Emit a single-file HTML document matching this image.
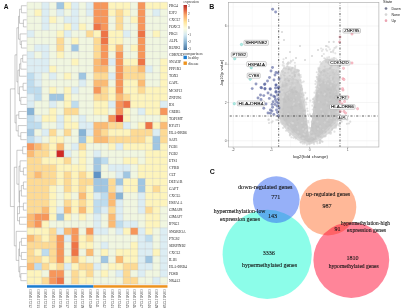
<!DOCTYPE html><html><head><meta charset="utf-8"><style>html,body{margin:0;padding:0;background:#fff;}body{width:401px;height:308px;overflow:hidden;position:relative;} svg{filter:blur(0.4px);}</style></head><body><svg width="401" height="308" viewBox="0 0 401 308" style="position:absolute;left:0;top:0">
<rect width="401" height="308" fill="#fff"/>
<rect x="27.00" y="2.20" width="7.39" height="7.05" fill="#f0f6e0"/>
<rect x="34.39" y="2.20" width="7.39" height="7.05" fill="#f0f6e0"/>
<rect x="41.79" y="2.20" width="7.39" height="7.05" fill="#dcedf3"/>
<rect x="49.18" y="2.20" width="7.39" height="7.05" fill="#f0f6e0"/>
<rect x="56.58" y="2.20" width="7.39" height="7.05" fill="#a0c6e2"/>
<rect x="63.97" y="2.20" width="7.39" height="7.05" fill="#fdf4bc"/>
<rect x="71.37" y="2.20" width="7.39" height="7.05" fill="#dcedf3"/>
<rect x="78.76" y="2.20" width="7.39" height="7.05" fill="#f0f6e0"/>
<rect x="86.16" y="2.20" width="7.39" height="7.05" fill="#dcedf3"/>
<rect x="93.55" y="2.20" width="7.39" height="7.05" fill="#f7965a"/>
<rect x="100.95" y="2.20" width="7.39" height="7.05" fill="#f7965a"/>
<rect x="108.34" y="2.20" width="7.39" height="7.05" fill="#fdf4bc"/>
<rect x="115.74" y="2.20" width="7.39" height="7.05" fill="#fdf4bc"/>
<rect x="123.13" y="2.20" width="7.39" height="7.05" fill="#fdf4bc"/>
<rect x="130.53" y="2.20" width="7.39" height="7.05" fill="#f0f6e0"/>
<rect x="137.92" y="2.20" width="7.39" height="7.05" fill="#f7965a"/>
<rect x="145.32" y="2.20" width="7.39" height="7.05" fill="#fdf4bc"/>
<rect x="152.71" y="2.20" width="7.39" height="7.05" fill="#fdf4bc"/>
<rect x="160.11" y="2.20" width="7.39" height="7.05" fill="#fdf4bc"/>
<rect x="27.00" y="9.25" width="7.39" height="7.05" fill="#f0f6e0"/>
<rect x="34.39" y="9.25" width="7.39" height="7.05" fill="#fdf4bc"/>
<rect x="41.79" y="9.25" width="7.39" height="7.05" fill="#dcedf3"/>
<rect x="49.18" y="9.25" width="7.39" height="7.05" fill="#f0f6e0"/>
<rect x="56.58" y="9.25" width="7.39" height="7.05" fill="#dcedf3"/>
<rect x="63.97" y="9.25" width="7.39" height="7.05" fill="#f0f6e0"/>
<rect x="71.37" y="9.25" width="7.39" height="7.05" fill="#dcedf3"/>
<rect x="78.76" y="9.25" width="7.39" height="7.05" fill="#f0f6e0"/>
<rect x="86.16" y="9.25" width="7.39" height="7.05" fill="#dcedf3"/>
<rect x="93.55" y="9.25" width="7.39" height="7.05" fill="#f7965a"/>
<rect x="100.95" y="9.25" width="7.39" height="7.05" fill="#f7965a"/>
<rect x="108.34" y="9.25" width="7.39" height="7.05" fill="#fdf4bc"/>
<rect x="115.74" y="9.25" width="7.39" height="7.05" fill="#fdda94"/>
<rect x="123.13" y="9.25" width="7.39" height="7.05" fill="#fdf4bc"/>
<rect x="130.53" y="9.25" width="7.39" height="7.05" fill="#f0f6e0"/>
<rect x="137.92" y="9.25" width="7.39" height="7.05" fill="#f7965a"/>
<rect x="145.32" y="9.25" width="7.39" height="7.05" fill="#f0f6e0"/>
<rect x="152.71" y="9.25" width="7.39" height="7.05" fill="#dcedf3"/>
<rect x="160.11" y="9.25" width="7.39" height="7.05" fill="#f0f6e0"/>
<rect x="27.00" y="16.30" width="7.39" height="7.05" fill="#f0f6e0"/>
<rect x="34.39" y="16.30" width="7.39" height="7.05" fill="#f0f6e0"/>
<rect x="41.79" y="16.30" width="7.39" height="7.05" fill="#dcedf3"/>
<rect x="49.18" y="16.30" width="7.39" height="7.05" fill="#fdf4bc"/>
<rect x="56.58" y="16.30" width="7.39" height="7.05" fill="#f0f6e0"/>
<rect x="63.97" y="16.30" width="7.39" height="7.05" fill="#dcedf3"/>
<rect x="71.37" y="16.30" width="7.39" height="7.05" fill="#dcedf3"/>
<rect x="78.76" y="16.30" width="7.39" height="7.05" fill="#f0f6e0"/>
<rect x="86.16" y="16.30" width="7.39" height="7.05" fill="#f0f6e0"/>
<rect x="93.55" y="16.30" width="7.39" height="7.05" fill="#f7965a"/>
<rect x="100.95" y="16.30" width="7.39" height="7.05" fill="#f7965a"/>
<rect x="108.34" y="16.30" width="7.39" height="7.05" fill="#f0f6e0"/>
<rect x="115.74" y="16.30" width="7.39" height="7.05" fill="#fdda94"/>
<rect x="123.13" y="16.30" width="7.39" height="7.05" fill="#f0f6e0"/>
<rect x="130.53" y="16.30" width="7.39" height="7.05" fill="#fdf4bc"/>
<rect x="137.92" y="16.30" width="7.39" height="7.05" fill="#f7965a"/>
<rect x="145.32" y="16.30" width="7.39" height="7.05" fill="#f0f6e0"/>
<rect x="152.71" y="16.30" width="7.39" height="7.05" fill="#f0f6e0"/>
<rect x="160.11" y="16.30" width="7.39" height="7.05" fill="#f0f6e0"/>
<rect x="27.00" y="23.35" width="7.39" height="7.05" fill="#f0f6e0"/>
<rect x="34.39" y="23.35" width="7.39" height="7.05" fill="#f0f6e0"/>
<rect x="41.79" y="23.35" width="7.39" height="7.05" fill="#dcedf3"/>
<rect x="49.18" y="23.35" width="7.39" height="7.05" fill="#f0f6e0"/>
<rect x="56.58" y="23.35" width="7.39" height="7.05" fill="#f0f6e0"/>
<rect x="63.97" y="23.35" width="7.39" height="7.05" fill="#fdf4bc"/>
<rect x="71.37" y="23.35" width="7.39" height="7.05" fill="#dcedf3"/>
<rect x="78.76" y="23.35" width="7.39" height="7.05" fill="#fdf4bc"/>
<rect x="86.16" y="23.35" width="7.39" height="7.05" fill="#f0f6e0"/>
<rect x="93.55" y="23.35" width="7.39" height="7.05" fill="#ee7446"/>
<rect x="100.95" y="23.35" width="7.39" height="7.05" fill="#f7965a"/>
<rect x="108.34" y="23.35" width="7.39" height="7.05" fill="#f0f6e0"/>
<rect x="115.74" y="23.35" width="7.39" height="7.05" fill="#fdda94"/>
<rect x="123.13" y="23.35" width="7.39" height="7.05" fill="#f0f6e0"/>
<rect x="130.53" y="23.35" width="7.39" height="7.05" fill="#f0f6e0"/>
<rect x="137.92" y="23.35" width="7.39" height="7.05" fill="#f7965a"/>
<rect x="145.32" y="23.35" width="7.39" height="7.05" fill="#f0f6e0"/>
<rect x="152.71" y="23.35" width="7.39" height="7.05" fill="#f0f6e0"/>
<rect x="160.11" y="23.35" width="7.39" height="7.05" fill="#f0f6e0"/>
<rect x="27.00" y="30.40" width="7.39" height="7.05" fill="#dcedf3"/>
<rect x="34.39" y="30.40" width="7.39" height="7.05" fill="#f0f6e0"/>
<rect x="41.79" y="30.40" width="7.39" height="7.05" fill="#f0f6e0"/>
<rect x="49.18" y="30.40" width="7.39" height="7.05" fill="#f0f6e0"/>
<rect x="56.58" y="30.40" width="7.39" height="7.05" fill="#fdf4bc"/>
<rect x="63.97" y="30.40" width="7.39" height="7.05" fill="#dcedf3"/>
<rect x="71.37" y="30.40" width="7.39" height="7.05" fill="#f0f6e0"/>
<rect x="78.76" y="30.40" width="7.39" height="7.05" fill="#f0f6e0"/>
<rect x="86.16" y="30.40" width="7.39" height="7.05" fill="#fdda94"/>
<rect x="93.55" y="30.40" width="7.39" height="7.05" fill="#fdf4bc"/>
<rect x="100.95" y="30.40" width="7.39" height="7.05" fill="#ee7446"/>
<rect x="108.34" y="30.40" width="7.39" height="7.05" fill="#fdf4bc"/>
<rect x="115.74" y="30.40" width="7.39" height="7.05" fill="#fdf4bc"/>
<rect x="123.13" y="30.40" width="7.39" height="7.05" fill="#dcedf3"/>
<rect x="130.53" y="30.40" width="7.39" height="7.05" fill="#f0f6e0"/>
<rect x="137.92" y="30.40" width="7.39" height="7.05" fill="#ee7446"/>
<rect x="145.32" y="30.40" width="7.39" height="7.05" fill="#f0f6e0"/>
<rect x="152.71" y="30.40" width="7.39" height="7.05" fill="#fdf4bc"/>
<rect x="160.11" y="30.40" width="7.39" height="7.05" fill="#f0f6e0"/>
<rect x="27.00" y="37.45" width="7.39" height="7.05" fill="#f0f6e0"/>
<rect x="34.39" y="37.45" width="7.39" height="7.05" fill="#f0f6e0"/>
<rect x="41.79" y="37.45" width="7.39" height="7.05" fill="#f0f6e0"/>
<rect x="49.18" y="37.45" width="7.39" height="7.05" fill="#f0f6e0"/>
<rect x="56.58" y="37.45" width="7.39" height="7.05" fill="#fdda94"/>
<rect x="63.97" y="37.45" width="7.39" height="7.05" fill="#f0f6e0"/>
<rect x="71.37" y="37.45" width="7.39" height="7.05" fill="#fdf4bc"/>
<rect x="78.76" y="37.45" width="7.39" height="7.05" fill="#f0f6e0"/>
<rect x="86.16" y="37.45" width="7.39" height="7.05" fill="#f0f6e0"/>
<rect x="93.55" y="37.45" width="7.39" height="7.05" fill="#fdda94"/>
<rect x="100.95" y="37.45" width="7.39" height="7.05" fill="#ee7446"/>
<rect x="108.34" y="37.45" width="7.39" height="7.05" fill="#fdf4bc"/>
<rect x="115.74" y="37.45" width="7.39" height="7.05" fill="#fdf4bc"/>
<rect x="123.13" y="37.45" width="7.39" height="7.05" fill="#f0f6e0"/>
<rect x="130.53" y="37.45" width="7.39" height="7.05" fill="#f0f6e0"/>
<rect x="137.92" y="37.45" width="7.39" height="7.05" fill="#f7965a"/>
<rect x="145.32" y="37.45" width="7.39" height="7.05" fill="#f0f6e0"/>
<rect x="152.71" y="37.45" width="7.39" height="7.05" fill="#f0f6e0"/>
<rect x="160.11" y="37.45" width="7.39" height="7.05" fill="#f0f6e0"/>
<rect x="27.00" y="44.50" width="7.39" height="7.05" fill="#f0f6e0"/>
<rect x="34.39" y="44.50" width="7.39" height="7.05" fill="#dcedf3"/>
<rect x="41.79" y="44.50" width="7.39" height="7.05" fill="#dcedf3"/>
<rect x="49.18" y="44.50" width="7.39" height="7.05" fill="#f0f6e0"/>
<rect x="56.58" y="44.50" width="7.39" height="7.05" fill="#fdda94"/>
<rect x="63.97" y="44.50" width="7.39" height="7.05" fill="#f0f6e0"/>
<rect x="71.37" y="44.50" width="7.39" height="7.05" fill="#a0c6e2"/>
<rect x="78.76" y="44.50" width="7.39" height="7.05" fill="#f0f6e0"/>
<rect x="86.16" y="44.50" width="7.39" height="7.05" fill="#f0f6e0"/>
<rect x="93.55" y="44.50" width="7.39" height="7.05" fill="#fdda94"/>
<rect x="100.95" y="44.50" width="7.39" height="7.05" fill="#f7965a"/>
<rect x="108.34" y="44.50" width="7.39" height="7.05" fill="#fdf4bc"/>
<rect x="115.74" y="44.50" width="7.39" height="7.05" fill="#fbbb74"/>
<rect x="123.13" y="44.50" width="7.39" height="7.05" fill="#f0f6e0"/>
<rect x="130.53" y="44.50" width="7.39" height="7.05" fill="#fdf4bc"/>
<rect x="137.92" y="44.50" width="7.39" height="7.05" fill="#f7965a"/>
<rect x="145.32" y="44.50" width="7.39" height="7.05" fill="#f0f6e0"/>
<rect x="152.71" y="44.50" width="7.39" height="7.05" fill="#f0f6e0"/>
<rect x="160.11" y="44.50" width="7.39" height="7.05" fill="#f0f6e0"/>
<rect x="27.00" y="51.55" width="7.39" height="7.05" fill="#dcedf3"/>
<rect x="34.39" y="51.55" width="7.39" height="7.05" fill="#f0f6e0"/>
<rect x="41.79" y="51.55" width="7.39" height="7.05" fill="#dcedf3"/>
<rect x="49.18" y="51.55" width="7.39" height="7.05" fill="#f0f6e0"/>
<rect x="56.58" y="51.55" width="7.39" height="7.05" fill="#fdf4bc"/>
<rect x="63.97" y="51.55" width="7.39" height="7.05" fill="#f0f6e0"/>
<rect x="71.37" y="51.55" width="7.39" height="7.05" fill="#f0f6e0"/>
<rect x="78.76" y="51.55" width="7.39" height="7.05" fill="#f0f6e0"/>
<rect x="86.16" y="51.55" width="7.39" height="7.05" fill="#f0f6e0"/>
<rect x="93.55" y="51.55" width="7.39" height="7.05" fill="#fdda94"/>
<rect x="100.95" y="51.55" width="7.39" height="7.05" fill="#f7965a"/>
<rect x="108.34" y="51.55" width="7.39" height="7.05" fill="#f0f6e0"/>
<rect x="115.74" y="51.55" width="7.39" height="7.05" fill="#f7965a"/>
<rect x="123.13" y="51.55" width="7.39" height="7.05" fill="#f0f6e0"/>
<rect x="130.53" y="51.55" width="7.39" height="7.05" fill="#f0f6e0"/>
<rect x="137.92" y="51.55" width="7.39" height="7.05" fill="#f7965a"/>
<rect x="145.32" y="51.55" width="7.39" height="7.05" fill="#f0f6e0"/>
<rect x="152.71" y="51.55" width="7.39" height="7.05" fill="#f0f6e0"/>
<rect x="160.11" y="51.55" width="7.39" height="7.05" fill="#f0f6e0"/>
<rect x="27.00" y="58.60" width="7.39" height="7.05" fill="#dcedf3"/>
<rect x="34.39" y="58.60" width="7.39" height="7.05" fill="#dcedf3"/>
<rect x="41.79" y="58.60" width="7.39" height="7.05" fill="#dcedf3"/>
<rect x="49.18" y="58.60" width="7.39" height="7.05" fill="#f0f6e0"/>
<rect x="56.58" y="58.60" width="7.39" height="7.05" fill="#f0f6e0"/>
<rect x="63.97" y="58.60" width="7.39" height="7.05" fill="#f0f6e0"/>
<rect x="71.37" y="58.60" width="7.39" height="7.05" fill="#fdf4bc"/>
<rect x="78.76" y="58.60" width="7.39" height="7.05" fill="#f0f6e0"/>
<rect x="86.16" y="58.60" width="7.39" height="7.05" fill="#f0f6e0"/>
<rect x="93.55" y="58.60" width="7.39" height="7.05" fill="#fbbb74"/>
<rect x="100.95" y="58.60" width="7.39" height="7.05" fill="#f7965a"/>
<rect x="108.34" y="58.60" width="7.39" height="7.05" fill="#dcedf3"/>
<rect x="115.74" y="58.60" width="7.39" height="7.05" fill="#f7965a"/>
<rect x="123.13" y="58.60" width="7.39" height="7.05" fill="#fdf4bc"/>
<rect x="130.53" y="58.60" width="7.39" height="7.05" fill="#fdf4bc"/>
<rect x="137.92" y="58.60" width="7.39" height="7.05" fill="#ee7446"/>
<rect x="145.32" y="58.60" width="7.39" height="7.05" fill="#f0f6e0"/>
<rect x="152.71" y="58.60" width="7.39" height="7.05" fill="#f0f6e0"/>
<rect x="160.11" y="58.60" width="7.39" height="7.05" fill="#fdf4bc"/>
<rect x="27.00" y="65.65" width="7.39" height="7.05" fill="#dcedf3"/>
<rect x="34.39" y="65.65" width="7.39" height="7.05" fill="#dcedf3"/>
<rect x="41.79" y="65.65" width="7.39" height="7.05" fill="#dcedf3"/>
<rect x="49.18" y="65.65" width="7.39" height="7.05" fill="#fdf4bc"/>
<rect x="56.58" y="65.65" width="7.39" height="7.05" fill="#f0f6e0"/>
<rect x="63.97" y="65.65" width="7.39" height="7.05" fill="#f0f6e0"/>
<rect x="71.37" y="65.65" width="7.39" height="7.05" fill="#f0f6e0"/>
<rect x="78.76" y="65.65" width="7.39" height="7.05" fill="#f0f6e0"/>
<rect x="86.16" y="65.65" width="7.39" height="7.05" fill="#f0f6e0"/>
<rect x="93.55" y="65.65" width="7.39" height="7.05" fill="#fbbb74"/>
<rect x="100.95" y="65.65" width="7.39" height="7.05" fill="#fbbb74"/>
<rect x="108.34" y="65.65" width="7.39" height="7.05" fill="#f0f6e0"/>
<rect x="115.74" y="65.65" width="7.39" height="7.05" fill="#f7965a"/>
<rect x="123.13" y="65.65" width="7.39" height="7.05" fill="#fdda94"/>
<rect x="130.53" y="65.65" width="7.39" height="7.05" fill="#fdda94"/>
<rect x="137.92" y="65.65" width="7.39" height="7.05" fill="#fbbb74"/>
<rect x="145.32" y="65.65" width="7.39" height="7.05" fill="#dcedf3"/>
<rect x="152.71" y="65.65" width="7.39" height="7.05" fill="#f0f6e0"/>
<rect x="160.11" y="65.65" width="7.39" height="7.05" fill="#fdf4bc"/>
<rect x="27.00" y="72.70" width="7.39" height="7.05" fill="#bedcee"/>
<rect x="34.39" y="72.70" width="7.39" height="7.05" fill="#dcedf3"/>
<rect x="41.79" y="72.70" width="7.39" height="7.05" fill="#f0f6e0"/>
<rect x="49.18" y="72.70" width="7.39" height="7.05" fill="#dcedf3"/>
<rect x="56.58" y="72.70" width="7.39" height="7.05" fill="#f0f6e0"/>
<rect x="63.97" y="72.70" width="7.39" height="7.05" fill="#fdf4bc"/>
<rect x="71.37" y="72.70" width="7.39" height="7.05" fill="#f0f6e0"/>
<rect x="78.76" y="72.70" width="7.39" height="7.05" fill="#a0c6e2"/>
<rect x="86.16" y="72.70" width="7.39" height="7.05" fill="#f0f6e0"/>
<rect x="93.55" y="72.70" width="7.39" height="7.05" fill="#fdda94"/>
<rect x="100.95" y="72.70" width="7.39" height="7.05" fill="#fdda94"/>
<rect x="108.34" y="72.70" width="7.39" height="7.05" fill="#dcedf3"/>
<rect x="115.74" y="72.70" width="7.39" height="7.05" fill="#f7965a"/>
<rect x="123.13" y="72.70" width="7.39" height="7.05" fill="#fdda94"/>
<rect x="130.53" y="72.70" width="7.39" height="7.05" fill="#fdda94"/>
<rect x="137.92" y="72.70" width="7.39" height="7.05" fill="#fdda94"/>
<rect x="145.32" y="72.70" width="7.39" height="7.05" fill="#f0f6e0"/>
<rect x="152.71" y="72.70" width="7.39" height="7.05" fill="#f0f6e0"/>
<rect x="160.11" y="72.70" width="7.39" height="7.05" fill="#fdf4bc"/>
<rect x="27.00" y="79.75" width="7.39" height="7.05" fill="#bedcee"/>
<rect x="34.39" y="79.75" width="7.39" height="7.05" fill="#dcedf3"/>
<rect x="41.79" y="79.75" width="7.39" height="7.05" fill="#f0f6e0"/>
<rect x="49.18" y="79.75" width="7.39" height="7.05" fill="#f0f6e0"/>
<rect x="56.58" y="79.75" width="7.39" height="7.05" fill="#f0f6e0"/>
<rect x="63.97" y="79.75" width="7.39" height="7.05" fill="#f0f6e0"/>
<rect x="71.37" y="79.75" width="7.39" height="7.05" fill="#f0f6e0"/>
<rect x="78.76" y="79.75" width="7.39" height="7.05" fill="#dcedf3"/>
<rect x="86.16" y="79.75" width="7.39" height="7.05" fill="#f0f6e0"/>
<rect x="93.55" y="79.75" width="7.39" height="7.05" fill="#fbbb74"/>
<rect x="100.95" y="79.75" width="7.39" height="7.05" fill="#fbbb74"/>
<rect x="108.34" y="79.75" width="7.39" height="7.05" fill="#f0f6e0"/>
<rect x="115.74" y="79.75" width="7.39" height="7.05" fill="#f7965a"/>
<rect x="123.13" y="79.75" width="7.39" height="7.05" fill="#fdf4bc"/>
<rect x="130.53" y="79.75" width="7.39" height="7.05" fill="#fdf4bc"/>
<rect x="137.92" y="79.75" width="7.39" height="7.05" fill="#fbbb74"/>
<rect x="145.32" y="79.75" width="7.39" height="7.05" fill="#f0f6e0"/>
<rect x="152.71" y="79.75" width="7.39" height="7.05" fill="#f0f6e0"/>
<rect x="160.11" y="79.75" width="7.39" height="7.05" fill="#fdf4bc"/>
<rect x="27.00" y="86.80" width="7.39" height="7.05" fill="#bedcee"/>
<rect x="34.39" y="86.80" width="7.39" height="7.05" fill="#bedcee"/>
<rect x="41.79" y="86.80" width="7.39" height="7.05" fill="#f0f6e0"/>
<rect x="49.18" y="86.80" width="7.39" height="7.05" fill="#fdf4bc"/>
<rect x="56.58" y="86.80" width="7.39" height="7.05" fill="#f0f6e0"/>
<rect x="63.97" y="86.80" width="7.39" height="7.05" fill="#fdf4bc"/>
<rect x="71.37" y="86.80" width="7.39" height="7.05" fill="#dcedf3"/>
<rect x="78.76" y="86.80" width="7.39" height="7.05" fill="#f0f6e0"/>
<rect x="86.16" y="86.80" width="7.39" height="7.05" fill="#f0f6e0"/>
<rect x="93.55" y="86.80" width="7.39" height="7.05" fill="#f7965a"/>
<rect x="100.95" y="86.80" width="7.39" height="7.05" fill="#fdda94"/>
<rect x="108.34" y="86.80" width="7.39" height="7.05" fill="#fdf4bc"/>
<rect x="115.74" y="86.80" width="7.39" height="7.05" fill="#f7965a"/>
<rect x="123.13" y="86.80" width="7.39" height="7.05" fill="#fdf4bc"/>
<rect x="130.53" y="86.80" width="7.39" height="7.05" fill="#fdf4bc"/>
<rect x="137.92" y="86.80" width="7.39" height="7.05" fill="#fdda94"/>
<rect x="145.32" y="86.80" width="7.39" height="7.05" fill="#fdf4bc"/>
<rect x="152.71" y="86.80" width="7.39" height="7.05" fill="#fdf4bc"/>
<rect x="160.11" y="86.80" width="7.39" height="7.05" fill="#fdf4bc"/>
<rect x="27.00" y="93.85" width="7.39" height="7.05" fill="#dcedf3"/>
<rect x="34.39" y="93.85" width="7.39" height="7.05" fill="#bedcee"/>
<rect x="41.79" y="93.85" width="7.39" height="7.05" fill="#f0f6e0"/>
<rect x="49.18" y="93.85" width="7.39" height="7.05" fill="#a0c6e2"/>
<rect x="56.58" y="93.85" width="7.39" height="7.05" fill="#a0c6e2"/>
<rect x="63.97" y="93.85" width="7.39" height="7.05" fill="#fdf4bc"/>
<rect x="71.37" y="93.85" width="7.39" height="7.05" fill="#f0f6e0"/>
<rect x="78.76" y="93.85" width="7.39" height="7.05" fill="#f0f6e0"/>
<rect x="86.16" y="93.85" width="7.39" height="7.05" fill="#f0f6e0"/>
<rect x="93.55" y="93.85" width="7.39" height="7.05" fill="#fdda94"/>
<rect x="100.95" y="93.85" width="7.39" height="7.05" fill="#fdda94"/>
<rect x="108.34" y="93.85" width="7.39" height="7.05" fill="#fdf4bc"/>
<rect x="115.74" y="93.85" width="7.39" height="7.05" fill="#fbbb74"/>
<rect x="123.13" y="93.85" width="7.39" height="7.05" fill="#fdda94"/>
<rect x="130.53" y="93.85" width="7.39" height="7.05" fill="#fdf4bc"/>
<rect x="137.92" y="93.85" width="7.39" height="7.05" fill="#fdf4bc"/>
<rect x="145.32" y="93.85" width="7.39" height="7.05" fill="#fdf4bc"/>
<rect x="152.71" y="93.85" width="7.39" height="7.05" fill="#fdf4bc"/>
<rect x="160.11" y="93.85" width="7.39" height="7.05" fill="#fdf4bc"/>
<rect x="27.00" y="100.90" width="7.39" height="7.05" fill="#dcedf3"/>
<rect x="34.39" y="100.90" width="7.39" height="7.05" fill="#f0f6e0"/>
<rect x="41.79" y="100.90" width="7.39" height="7.05" fill="#f0f6e0"/>
<rect x="49.18" y="100.90" width="7.39" height="7.05" fill="#dcedf3"/>
<rect x="56.58" y="100.90" width="7.39" height="7.05" fill="#f0f6e0"/>
<rect x="63.97" y="100.90" width="7.39" height="7.05" fill="#fdf4bc"/>
<rect x="71.37" y="100.90" width="7.39" height="7.05" fill="#bedcee"/>
<rect x="78.76" y="100.90" width="7.39" height="7.05" fill="#f0f6e0"/>
<rect x="86.16" y="100.90" width="7.39" height="7.05" fill="#f0f6e0"/>
<rect x="93.55" y="100.90" width="7.39" height="7.05" fill="#fdf4bc"/>
<rect x="100.95" y="100.90" width="7.39" height="7.05" fill="#fdf4bc"/>
<rect x="108.34" y="100.90" width="7.39" height="7.05" fill="#dcedf3"/>
<rect x="115.74" y="100.90" width="7.39" height="7.05" fill="#f7965a"/>
<rect x="123.13" y="100.90" width="7.39" height="7.05" fill="#ee7446"/>
<rect x="130.53" y="100.90" width="7.39" height="7.05" fill="#fdf4bc"/>
<rect x="137.92" y="100.90" width="7.39" height="7.05" fill="#fdf4bc"/>
<rect x="145.32" y="100.90" width="7.39" height="7.05" fill="#fdf4bc"/>
<rect x="152.71" y="100.90" width="7.39" height="7.05" fill="#fdf4bc"/>
<rect x="160.11" y="100.90" width="7.39" height="7.05" fill="#dcedf3"/>
<rect x="27.00" y="107.95" width="7.39" height="7.05" fill="#88b4d6"/>
<rect x="34.39" y="107.95" width="7.39" height="7.05" fill="#f0f6e0"/>
<rect x="41.79" y="107.95" width="7.39" height="7.05" fill="#f0f6e0"/>
<rect x="49.18" y="107.95" width="7.39" height="7.05" fill="#fdf4bc"/>
<rect x="56.58" y="107.95" width="7.39" height="7.05" fill="#f0f6e0"/>
<rect x="63.97" y="107.95" width="7.39" height="7.05" fill="#fdda94"/>
<rect x="71.37" y="107.95" width="7.39" height="7.05" fill="#fdda94"/>
<rect x="78.76" y="107.95" width="7.39" height="7.05" fill="#f0f6e0"/>
<rect x="86.16" y="107.95" width="7.39" height="7.05" fill="#f0f6e0"/>
<rect x="93.55" y="107.95" width="7.39" height="7.05" fill="#fdf4bc"/>
<rect x="100.95" y="107.95" width="7.39" height="7.05" fill="#fdf4bc"/>
<rect x="108.34" y="107.95" width="7.39" height="7.05" fill="#f0f6e0"/>
<rect x="115.74" y="107.95" width="7.39" height="7.05" fill="#f7965a"/>
<rect x="123.13" y="107.95" width="7.39" height="7.05" fill="#fdf4bc"/>
<rect x="130.53" y="107.95" width="7.39" height="7.05" fill="#f0f6e0"/>
<rect x="137.92" y="107.95" width="7.39" height="7.05" fill="#dcedf3"/>
<rect x="145.32" y="107.95" width="7.39" height="7.05" fill="#fdf4bc"/>
<rect x="152.71" y="107.95" width="7.39" height="7.05" fill="#fdf4bc"/>
<rect x="160.11" y="107.95" width="7.39" height="7.05" fill="#f7965a"/>
<rect x="27.00" y="115.00" width="7.39" height="7.05" fill="#bedcee"/>
<rect x="34.39" y="115.00" width="7.39" height="7.05" fill="#dcedf3"/>
<rect x="41.79" y="115.00" width="7.39" height="7.05" fill="#fdf4bc"/>
<rect x="49.18" y="115.00" width="7.39" height="7.05" fill="#fdf4bc"/>
<rect x="56.58" y="115.00" width="7.39" height="7.05" fill="#dcedf3"/>
<rect x="63.97" y="115.00" width="7.39" height="7.05" fill="#fdf4bc"/>
<rect x="71.37" y="115.00" width="7.39" height="7.05" fill="#f0f6e0"/>
<rect x="78.76" y="115.00" width="7.39" height="7.05" fill="#dcedf3"/>
<rect x="86.16" y="115.00" width="7.39" height="7.05" fill="#f0f6e0"/>
<rect x="93.55" y="115.00" width="7.39" height="7.05" fill="#f0f6e0"/>
<rect x="100.95" y="115.00" width="7.39" height="7.05" fill="#f0f6e0"/>
<rect x="108.34" y="115.00" width="7.39" height="7.05" fill="#f7965a"/>
<rect x="115.74" y="115.00" width="7.39" height="7.05" fill="#d02a26"/>
<rect x="123.13" y="115.00" width="7.39" height="7.05" fill="#fdf4bc"/>
<rect x="130.53" y="115.00" width="7.39" height="7.05" fill="#f0f6e0"/>
<rect x="137.92" y="115.00" width="7.39" height="7.05" fill="#f0f6e0"/>
<rect x="145.32" y="115.00" width="7.39" height="7.05" fill="#f0f6e0"/>
<rect x="152.71" y="115.00" width="7.39" height="7.05" fill="#f0f6e0"/>
<rect x="160.11" y="115.00" width="7.39" height="7.05" fill="#fdf4bc"/>
<rect x="27.00" y="122.05" width="7.39" height="7.05" fill="#bedcee"/>
<rect x="34.39" y="122.05" width="7.39" height="7.05" fill="#bedcee"/>
<rect x="41.79" y="122.05" width="7.39" height="7.05" fill="#f0f6e0"/>
<rect x="49.18" y="122.05" width="7.39" height="7.05" fill="#f0f6e0"/>
<rect x="56.58" y="122.05" width="7.39" height="7.05" fill="#dcedf3"/>
<rect x="63.97" y="122.05" width="7.39" height="7.05" fill="#fdf4bc"/>
<rect x="71.37" y="122.05" width="7.39" height="7.05" fill="#fdf4bc"/>
<rect x="78.76" y="122.05" width="7.39" height="7.05" fill="#dcedf3"/>
<rect x="86.16" y="122.05" width="7.39" height="7.05" fill="#dcedf3"/>
<rect x="93.55" y="122.05" width="7.39" height="7.05" fill="#fbbb74"/>
<rect x="100.95" y="122.05" width="7.39" height="7.05" fill="#fbbb74"/>
<rect x="108.34" y="122.05" width="7.39" height="7.05" fill="#fdda94"/>
<rect x="115.74" y="122.05" width="7.39" height="7.05" fill="#fdda94"/>
<rect x="123.13" y="122.05" width="7.39" height="7.05" fill="#dcedf3"/>
<rect x="130.53" y="122.05" width="7.39" height="7.05" fill="#f0f6e0"/>
<rect x="137.92" y="122.05" width="7.39" height="7.05" fill="#fdf4bc"/>
<rect x="145.32" y="122.05" width="7.39" height="7.05" fill="#ee7446"/>
<rect x="152.71" y="122.05" width="7.39" height="7.05" fill="#fdf4bc"/>
<rect x="160.11" y="122.05" width="7.39" height="7.05" fill="#fbbb74"/>
<rect x="27.00" y="129.10" width="7.39" height="7.05" fill="#a0c6e2"/>
<rect x="34.39" y="129.10" width="7.39" height="7.05" fill="#f0f6e0"/>
<rect x="41.79" y="129.10" width="7.39" height="7.05" fill="#dcedf3"/>
<rect x="49.18" y="129.10" width="7.39" height="7.05" fill="#fdda94"/>
<rect x="56.58" y="129.10" width="7.39" height="7.05" fill="#f0f6e0"/>
<rect x="63.97" y="129.10" width="7.39" height="7.05" fill="#fdda94"/>
<rect x="71.37" y="129.10" width="7.39" height="7.05" fill="#f0f6e0"/>
<rect x="78.76" y="129.10" width="7.39" height="7.05" fill="#88b4d6"/>
<rect x="86.16" y="129.10" width="7.39" height="7.05" fill="#dcedf3"/>
<rect x="93.55" y="129.10" width="7.39" height="7.05" fill="#fbbb74"/>
<rect x="100.95" y="129.10" width="7.39" height="7.05" fill="#fdda94"/>
<rect x="108.34" y="129.10" width="7.39" height="7.05" fill="#fdf4bc"/>
<rect x="115.74" y="129.10" width="7.39" height="7.05" fill="#fdf4bc"/>
<rect x="123.13" y="129.10" width="7.39" height="7.05" fill="#fdf4bc"/>
<rect x="130.53" y="129.10" width="7.39" height="7.05" fill="#fdda94"/>
<rect x="137.92" y="129.10" width="7.39" height="7.05" fill="#fdda94"/>
<rect x="145.32" y="129.10" width="7.39" height="7.05" fill="#fdda94"/>
<rect x="152.71" y="129.10" width="7.39" height="7.05" fill="#dcedf3"/>
<rect x="160.11" y="129.10" width="7.39" height="7.05" fill="#fdda94"/>
<rect x="27.00" y="136.15" width="7.39" height="7.05" fill="#bedcee"/>
<rect x="34.39" y="136.15" width="7.39" height="7.05" fill="#dcedf3"/>
<rect x="41.79" y="136.15" width="7.39" height="7.05" fill="#f0f6e0"/>
<rect x="49.18" y="136.15" width="7.39" height="7.05" fill="#fdf4bc"/>
<rect x="56.58" y="136.15" width="7.39" height="7.05" fill="#fdf4bc"/>
<rect x="63.97" y="136.15" width="7.39" height="7.05" fill="#f0f6e0"/>
<rect x="71.37" y="136.15" width="7.39" height="7.05" fill="#f0f6e0"/>
<rect x="78.76" y="136.15" width="7.39" height="7.05" fill="#a0c6e2"/>
<rect x="86.16" y="136.15" width="7.39" height="7.05" fill="#fdf4bc"/>
<rect x="93.55" y="136.15" width="7.39" height="7.05" fill="#fbbb74"/>
<rect x="100.95" y="136.15" width="7.39" height="7.05" fill="#fbbb74"/>
<rect x="108.34" y="136.15" width="7.39" height="7.05" fill="#fdda94"/>
<rect x="115.74" y="136.15" width="7.39" height="7.05" fill="#fdda94"/>
<rect x="123.13" y="136.15" width="7.39" height="7.05" fill="#fdda94"/>
<rect x="130.53" y="136.15" width="7.39" height="7.05" fill="#fdda94"/>
<rect x="137.92" y="136.15" width="7.39" height="7.05" fill="#fdda94"/>
<rect x="145.32" y="136.15" width="7.39" height="7.05" fill="#fdf4bc"/>
<rect x="152.71" y="136.15" width="7.39" height="7.05" fill="#a0c6e2"/>
<rect x="160.11" y="136.15" width="7.39" height="7.05" fill="#fdda94"/>
<rect x="27.00" y="143.20" width="7.39" height="7.05" fill="#f7965a"/>
<rect x="34.39" y="143.20" width="7.39" height="7.05" fill="#fbbb74"/>
<rect x="41.79" y="143.20" width="7.39" height="7.05" fill="#fdda94"/>
<rect x="49.18" y="143.20" width="7.39" height="7.05" fill="#fdf4bc"/>
<rect x="56.58" y="143.20" width="7.39" height="7.05" fill="#fbbb74"/>
<rect x="63.97" y="143.20" width="7.39" height="7.05" fill="#f0f6e0"/>
<rect x="71.37" y="143.20" width="7.39" height="7.05" fill="#dcedf3"/>
<rect x="78.76" y="143.20" width="7.39" height="7.05" fill="#fdda94"/>
<rect x="86.16" y="143.20" width="7.39" height="7.05" fill="#f0f6e0"/>
<rect x="93.55" y="143.20" width="7.39" height="7.05" fill="#f0f6e0"/>
<rect x="100.95" y="143.20" width="7.39" height="7.05" fill="#f0f6e0"/>
<rect x="108.34" y="143.20" width="7.39" height="7.05" fill="#fdf4bc"/>
<rect x="115.74" y="143.20" width="7.39" height="7.05" fill="#dcedf3"/>
<rect x="123.13" y="143.20" width="7.39" height="7.05" fill="#fdf4bc"/>
<rect x="130.53" y="143.20" width="7.39" height="7.05" fill="#fdf4bc"/>
<rect x="137.92" y="143.20" width="7.39" height="7.05" fill="#fdf4bc"/>
<rect x="145.32" y="143.20" width="7.39" height="7.05" fill="#fdf4bc"/>
<rect x="152.71" y="143.20" width="7.39" height="7.05" fill="#a0c6e2"/>
<rect x="160.11" y="143.20" width="7.39" height="7.05" fill="#fdf4bc"/>
<rect x="27.00" y="150.25" width="7.39" height="7.05" fill="#fbbb74"/>
<rect x="34.39" y="150.25" width="7.39" height="7.05" fill="#fdda94"/>
<rect x="41.79" y="150.25" width="7.39" height="7.05" fill="#fdda94"/>
<rect x="49.18" y="150.25" width="7.39" height="7.05" fill="#fdf4bc"/>
<rect x="56.58" y="150.25" width="7.39" height="7.05" fill="#d02a26"/>
<rect x="63.97" y="150.25" width="7.39" height="7.05" fill="#dcedf3"/>
<rect x="71.37" y="150.25" width="7.39" height="7.05" fill="#f0f6e0"/>
<rect x="78.76" y="150.25" width="7.39" height="7.05" fill="#fdf4bc"/>
<rect x="86.16" y="150.25" width="7.39" height="7.05" fill="#f0f6e0"/>
<rect x="93.55" y="150.25" width="7.39" height="7.05" fill="#dcedf3"/>
<rect x="100.95" y="150.25" width="7.39" height="7.05" fill="#f0f6e0"/>
<rect x="108.34" y="150.25" width="7.39" height="7.05" fill="#f0f6e0"/>
<rect x="115.74" y="150.25" width="7.39" height="7.05" fill="#f0f6e0"/>
<rect x="123.13" y="150.25" width="7.39" height="7.05" fill="#f0f6e0"/>
<rect x="130.53" y="150.25" width="7.39" height="7.05" fill="#f0f6e0"/>
<rect x="137.92" y="150.25" width="7.39" height="7.05" fill="#f0f6e0"/>
<rect x="145.32" y="150.25" width="7.39" height="7.05" fill="#fdf4bc"/>
<rect x="152.71" y="150.25" width="7.39" height="7.05" fill="#fdf4bc"/>
<rect x="160.11" y="150.25" width="7.39" height="7.05" fill="#fdf4bc"/>
<rect x="27.00" y="157.30" width="7.39" height="7.05" fill="#fdda94"/>
<rect x="34.39" y="157.30" width="7.39" height="7.05" fill="#fdda94"/>
<rect x="41.79" y="157.30" width="7.39" height="7.05" fill="#fdf4bc"/>
<rect x="49.18" y="157.30" width="7.39" height="7.05" fill="#fdf4bc"/>
<rect x="56.58" y="157.30" width="7.39" height="7.05" fill="#fdf4bc"/>
<rect x="63.97" y="157.30" width="7.39" height="7.05" fill="#fdda94"/>
<rect x="71.37" y="157.30" width="7.39" height="7.05" fill="#f0f6e0"/>
<rect x="78.76" y="157.30" width="7.39" height="7.05" fill="#fdf4bc"/>
<rect x="86.16" y="157.30" width="7.39" height="7.05" fill="#f0f6e0"/>
<rect x="93.55" y="157.30" width="7.39" height="7.05" fill="#a0c6e2"/>
<rect x="100.95" y="157.30" width="7.39" height="7.05" fill="#bedcee"/>
<rect x="108.34" y="157.30" width="7.39" height="7.05" fill="#f0f6e0"/>
<rect x="115.74" y="157.30" width="7.39" height="7.05" fill="#f0f6e0"/>
<rect x="123.13" y="157.30" width="7.39" height="7.05" fill="#fdf4bc"/>
<rect x="130.53" y="157.30" width="7.39" height="7.05" fill="#fdf4bc"/>
<rect x="137.92" y="157.30" width="7.39" height="7.05" fill="#f0f6e0"/>
<rect x="145.32" y="157.30" width="7.39" height="7.05" fill="#fdf4bc"/>
<rect x="152.71" y="157.30" width="7.39" height="7.05" fill="#fdf4bc"/>
<rect x="160.11" y="157.30" width="7.39" height="7.05" fill="#fdf4bc"/>
<rect x="27.00" y="164.35" width="7.39" height="7.05" fill="#fdda94"/>
<rect x="34.39" y="164.35" width="7.39" height="7.05" fill="#fdda94"/>
<rect x="41.79" y="164.35" width="7.39" height="7.05" fill="#fdda94"/>
<rect x="49.18" y="164.35" width="7.39" height="7.05" fill="#fdda94"/>
<rect x="56.58" y="164.35" width="7.39" height="7.05" fill="#fdf4bc"/>
<rect x="63.97" y="164.35" width="7.39" height="7.05" fill="#fdf4bc"/>
<rect x="71.37" y="164.35" width="7.39" height="7.05" fill="#fdf4bc"/>
<rect x="78.76" y="164.35" width="7.39" height="7.05" fill="#fdf4bc"/>
<rect x="86.16" y="164.35" width="7.39" height="7.05" fill="#f0f6e0"/>
<rect x="93.55" y="164.35" width="7.39" height="7.05" fill="#a0c6e2"/>
<rect x="100.95" y="164.35" width="7.39" height="7.05" fill="#f0f6e0"/>
<rect x="108.34" y="164.35" width="7.39" height="7.05" fill="#dcedf3"/>
<rect x="115.74" y="164.35" width="7.39" height="7.05" fill="#dcedf3"/>
<rect x="123.13" y="164.35" width="7.39" height="7.05" fill="#dcedf3"/>
<rect x="130.53" y="164.35" width="7.39" height="7.05" fill="#f0f6e0"/>
<rect x="137.92" y="164.35" width="7.39" height="7.05" fill="#fdf4bc"/>
<rect x="145.32" y="164.35" width="7.39" height="7.05" fill="#fdf4bc"/>
<rect x="152.71" y="164.35" width="7.39" height="7.05" fill="#fdf4bc"/>
<rect x="160.11" y="164.35" width="7.39" height="7.05" fill="#fdf4bc"/>
<rect x="27.00" y="171.40" width="7.39" height="7.05" fill="#fdda94"/>
<rect x="34.39" y="171.40" width="7.39" height="7.05" fill="#fbbb74"/>
<rect x="41.79" y="171.40" width="7.39" height="7.05" fill="#fdda94"/>
<rect x="49.18" y="171.40" width="7.39" height="7.05" fill="#fdda94"/>
<rect x="56.58" y="171.40" width="7.39" height="7.05" fill="#fdf4bc"/>
<rect x="63.97" y="171.40" width="7.39" height="7.05" fill="#fdda94"/>
<rect x="71.37" y="171.40" width="7.39" height="7.05" fill="#fdf4bc"/>
<rect x="78.76" y="171.40" width="7.39" height="7.05" fill="#fdda94"/>
<rect x="86.16" y="171.40" width="7.39" height="7.05" fill="#fdf4bc"/>
<rect x="93.55" y="171.40" width="7.39" height="7.05" fill="#6094c6"/>
<rect x="100.95" y="171.40" width="7.39" height="7.05" fill="#f0f6e0"/>
<rect x="108.34" y="171.40" width="7.39" height="7.05" fill="#f0f6e0"/>
<rect x="115.74" y="171.40" width="7.39" height="7.05" fill="#dcedf3"/>
<rect x="123.13" y="171.40" width="7.39" height="7.05" fill="#a0c6e2"/>
<rect x="130.53" y="171.40" width="7.39" height="7.05" fill="#f0f6e0"/>
<rect x="137.92" y="171.40" width="7.39" height="7.05" fill="#fdf4bc"/>
<rect x="145.32" y="171.40" width="7.39" height="7.05" fill="#fdf4bc"/>
<rect x="152.71" y="171.40" width="7.39" height="7.05" fill="#fdf4bc"/>
<rect x="160.11" y="171.40" width="7.39" height="7.05" fill="#fdf4bc"/>
<rect x="27.00" y="178.45" width="7.39" height="7.05" fill="#fdda94"/>
<rect x="34.39" y="178.45" width="7.39" height="7.05" fill="#fdda94"/>
<rect x="41.79" y="178.45" width="7.39" height="7.05" fill="#fdda94"/>
<rect x="49.18" y="178.45" width="7.39" height="7.05" fill="#fdda94"/>
<rect x="56.58" y="178.45" width="7.39" height="7.05" fill="#fdf4bc"/>
<rect x="63.97" y="178.45" width="7.39" height="7.05" fill="#fdda94"/>
<rect x="71.37" y="178.45" width="7.39" height="7.05" fill="#fdf4bc"/>
<rect x="78.76" y="178.45" width="7.39" height="7.05" fill="#fdda94"/>
<rect x="86.16" y="178.45" width="7.39" height="7.05" fill="#fdda94"/>
<rect x="93.55" y="178.45" width="7.39" height="7.05" fill="#a0c6e2"/>
<rect x="100.95" y="178.45" width="7.39" height="7.05" fill="#a0c6e2"/>
<rect x="108.34" y="178.45" width="7.39" height="7.05" fill="#fdda94"/>
<rect x="115.74" y="178.45" width="7.39" height="7.05" fill="#a0c6e2"/>
<rect x="123.13" y="178.45" width="7.39" height="7.05" fill="#fdf4bc"/>
<rect x="130.53" y="178.45" width="7.39" height="7.05" fill="#fdf4bc"/>
<rect x="137.92" y="178.45" width="7.39" height="7.05" fill="#a0c6e2"/>
<rect x="145.32" y="178.45" width="7.39" height="7.05" fill="#fdf4bc"/>
<rect x="152.71" y="178.45" width="7.39" height="7.05" fill="#fdf4bc"/>
<rect x="160.11" y="178.45" width="7.39" height="7.05" fill="#fdf4bc"/>
<rect x="27.00" y="185.50" width="7.39" height="7.05" fill="#fdda94"/>
<rect x="34.39" y="185.50" width="7.39" height="7.05" fill="#fdda94"/>
<rect x="41.79" y="185.50" width="7.39" height="7.05" fill="#fdda94"/>
<rect x="49.18" y="185.50" width="7.39" height="7.05" fill="#fdf4bc"/>
<rect x="56.58" y="185.50" width="7.39" height="7.05" fill="#f0f6e0"/>
<rect x="63.97" y="185.50" width="7.39" height="7.05" fill="#fdda94"/>
<rect x="71.37" y="185.50" width="7.39" height="7.05" fill="#fdf4bc"/>
<rect x="78.76" y="185.50" width="7.39" height="7.05" fill="#fdda94"/>
<rect x="86.16" y="185.50" width="7.39" height="7.05" fill="#fdf4bc"/>
<rect x="93.55" y="185.50" width="7.39" height="7.05" fill="#a0c6e2"/>
<rect x="100.95" y="185.50" width="7.39" height="7.05" fill="#a0c6e2"/>
<rect x="108.34" y="185.50" width="7.39" height="7.05" fill="#fdda94"/>
<rect x="115.74" y="185.50" width="7.39" height="7.05" fill="#dcedf3"/>
<rect x="123.13" y="185.50" width="7.39" height="7.05" fill="#fdf4bc"/>
<rect x="130.53" y="185.50" width="7.39" height="7.05" fill="#fdf4bc"/>
<rect x="137.92" y="185.50" width="7.39" height="7.05" fill="#a0c6e2"/>
<rect x="145.32" y="185.50" width="7.39" height="7.05" fill="#fdf4bc"/>
<rect x="152.71" y="185.50" width="7.39" height="7.05" fill="#fdda94"/>
<rect x="160.11" y="185.50" width="7.39" height="7.05" fill="#fdf4bc"/>
<rect x="27.00" y="192.55" width="7.39" height="7.05" fill="#fdda94"/>
<rect x="34.39" y="192.55" width="7.39" height="7.05" fill="#fdda94"/>
<rect x="41.79" y="192.55" width="7.39" height="7.05" fill="#fdda94"/>
<rect x="49.18" y="192.55" width="7.39" height="7.05" fill="#fdf4bc"/>
<rect x="56.58" y="192.55" width="7.39" height="7.05" fill="#f0f6e0"/>
<rect x="63.97" y="192.55" width="7.39" height="7.05" fill="#fdf4bc"/>
<rect x="71.37" y="192.55" width="7.39" height="7.05" fill="#f0f6e0"/>
<rect x="78.76" y="192.55" width="7.39" height="7.05" fill="#fbbb74"/>
<rect x="86.16" y="192.55" width="7.39" height="7.05" fill="#fdf4bc"/>
<rect x="93.55" y="192.55" width="7.39" height="7.05" fill="#dcedf3"/>
<rect x="100.95" y="192.55" width="7.39" height="7.05" fill="#bedcee"/>
<rect x="108.34" y="192.55" width="7.39" height="7.05" fill="#fbbb74"/>
<rect x="115.74" y="192.55" width="7.39" height="7.05" fill="#88b4d6"/>
<rect x="123.13" y="192.55" width="7.39" height="7.05" fill="#f0f6e0"/>
<rect x="130.53" y="192.55" width="7.39" height="7.05" fill="#f0f6e0"/>
<rect x="137.92" y="192.55" width="7.39" height="7.05" fill="#dcedf3"/>
<rect x="145.32" y="192.55" width="7.39" height="7.05" fill="#fdf4bc"/>
<rect x="152.71" y="192.55" width="7.39" height="7.05" fill="#fdf4bc"/>
<rect x="160.11" y="192.55" width="7.39" height="7.05" fill="#fdf4bc"/>
<rect x="27.00" y="199.60" width="7.39" height="7.05" fill="#fdda94"/>
<rect x="34.39" y="199.60" width="7.39" height="7.05" fill="#fdda94"/>
<rect x="41.79" y="199.60" width="7.39" height="7.05" fill="#fdda94"/>
<rect x="49.18" y="199.60" width="7.39" height="7.05" fill="#fdf4bc"/>
<rect x="56.58" y="199.60" width="7.39" height="7.05" fill="#f0f6e0"/>
<rect x="63.97" y="199.60" width="7.39" height="7.05" fill="#fdda94"/>
<rect x="71.37" y="199.60" width="7.39" height="7.05" fill="#fdf4bc"/>
<rect x="78.76" y="199.60" width="7.39" height="7.05" fill="#fdda94"/>
<rect x="86.16" y="199.60" width="7.39" height="7.05" fill="#fdf4bc"/>
<rect x="93.55" y="199.60" width="7.39" height="7.05" fill="#bedcee"/>
<rect x="100.95" y="199.60" width="7.39" height="7.05" fill="#bedcee"/>
<rect x="108.34" y="199.60" width="7.39" height="7.05" fill="#fbbb74"/>
<rect x="115.74" y="199.60" width="7.39" height="7.05" fill="#dcedf3"/>
<rect x="123.13" y="199.60" width="7.39" height="7.05" fill="#f0f6e0"/>
<rect x="130.53" y="199.60" width="7.39" height="7.05" fill="#f0f6e0"/>
<rect x="137.92" y="199.60" width="7.39" height="7.05" fill="#dcedf3"/>
<rect x="145.32" y="199.60" width="7.39" height="7.05" fill="#fdf4bc"/>
<rect x="152.71" y="199.60" width="7.39" height="7.05" fill="#fdf4bc"/>
<rect x="160.11" y="199.60" width="7.39" height="7.05" fill="#fdf4bc"/>
<rect x="27.00" y="206.65" width="7.39" height="7.05" fill="#fdda94"/>
<rect x="34.39" y="206.65" width="7.39" height="7.05" fill="#fdda94"/>
<rect x="41.79" y="206.65" width="7.39" height="7.05" fill="#fbbb74"/>
<rect x="49.18" y="206.65" width="7.39" height="7.05" fill="#fdf4bc"/>
<rect x="56.58" y="206.65" width="7.39" height="7.05" fill="#dcedf3"/>
<rect x="63.97" y="206.65" width="7.39" height="7.05" fill="#fbbb74"/>
<rect x="71.37" y="206.65" width="7.39" height="7.05" fill="#fdf4bc"/>
<rect x="78.76" y="206.65" width="7.39" height="7.05" fill="#fbbb74"/>
<rect x="86.16" y="206.65" width="7.39" height="7.05" fill="#fdf4bc"/>
<rect x="93.55" y="206.65" width="7.39" height="7.05" fill="#bedcee"/>
<rect x="100.95" y="206.65" width="7.39" height="7.05" fill="#dcedf3"/>
<rect x="108.34" y="206.65" width="7.39" height="7.05" fill="#fdda94"/>
<rect x="115.74" y="206.65" width="7.39" height="7.05" fill="#dcedf3"/>
<rect x="123.13" y="206.65" width="7.39" height="7.05" fill="#f0f6e0"/>
<rect x="130.53" y="206.65" width="7.39" height="7.05" fill="#f0f6e0"/>
<rect x="137.92" y="206.65" width="7.39" height="7.05" fill="#dcedf3"/>
<rect x="145.32" y="206.65" width="7.39" height="7.05" fill="#fdda94"/>
<rect x="152.71" y="206.65" width="7.39" height="7.05" fill="#fdf4bc"/>
<rect x="160.11" y="206.65" width="7.39" height="7.05" fill="#f0f6e0"/>
<rect x="27.00" y="213.70" width="7.39" height="7.05" fill="#fbbb74"/>
<rect x="34.39" y="213.70" width="7.39" height="7.05" fill="#f7965a"/>
<rect x="41.79" y="213.70" width="7.39" height="7.05" fill="#f7965a"/>
<rect x="49.18" y="213.70" width="7.39" height="7.05" fill="#fdf4bc"/>
<rect x="56.58" y="213.70" width="7.39" height="7.05" fill="#a0c6e2"/>
<rect x="63.97" y="213.70" width="7.39" height="7.05" fill="#fdf4bc"/>
<rect x="71.37" y="213.70" width="7.39" height="7.05" fill="#f0f6e0"/>
<rect x="78.76" y="213.70" width="7.39" height="7.05" fill="#fdf4bc"/>
<rect x="86.16" y="213.70" width="7.39" height="7.05" fill="#f0f6e0"/>
<rect x="93.55" y="213.70" width="7.39" height="7.05" fill="#dcedf3"/>
<rect x="100.95" y="213.70" width="7.39" height="7.05" fill="#f0f6e0"/>
<rect x="108.34" y="213.70" width="7.39" height="7.05" fill="#fbbb74"/>
<rect x="115.74" y="213.70" width="7.39" height="7.05" fill="#dcedf3"/>
<rect x="123.13" y="213.70" width="7.39" height="7.05" fill="#f0f6e0"/>
<rect x="130.53" y="213.70" width="7.39" height="7.05" fill="#f0f6e0"/>
<rect x="137.92" y="213.70" width="7.39" height="7.05" fill="#f0f6e0"/>
<rect x="145.32" y="213.70" width="7.39" height="7.05" fill="#fdf4bc"/>
<rect x="152.71" y="213.70" width="7.39" height="7.05" fill="#fdf4bc"/>
<rect x="160.11" y="213.70" width="7.39" height="7.05" fill="#f0f6e0"/>
<rect x="27.00" y="220.75" width="7.39" height="7.05" fill="#fbbb74"/>
<rect x="34.39" y="220.75" width="7.39" height="7.05" fill="#f7965a"/>
<rect x="41.79" y="220.75" width="7.39" height="7.05" fill="#fdf4bc"/>
<rect x="49.18" y="220.75" width="7.39" height="7.05" fill="#f0f6e0"/>
<rect x="56.58" y="220.75" width="7.39" height="7.05" fill="#f0f6e0"/>
<rect x="63.97" y="220.75" width="7.39" height="7.05" fill="#f0f6e0"/>
<rect x="71.37" y="220.75" width="7.39" height="7.05" fill="#f0f6e0"/>
<rect x="78.76" y="220.75" width="7.39" height="7.05" fill="#f0f6e0"/>
<rect x="86.16" y="220.75" width="7.39" height="7.05" fill="#f0f6e0"/>
<rect x="93.55" y="220.75" width="7.39" height="7.05" fill="#dcedf3"/>
<rect x="100.95" y="220.75" width="7.39" height="7.05" fill="#f0f6e0"/>
<rect x="108.34" y="220.75" width="7.39" height="7.05" fill="#fbbb74"/>
<rect x="115.74" y="220.75" width="7.39" height="7.05" fill="#bedcee"/>
<rect x="123.13" y="220.75" width="7.39" height="7.05" fill="#dcedf3"/>
<rect x="130.53" y="220.75" width="7.39" height="7.05" fill="#dcedf3"/>
<rect x="137.92" y="220.75" width="7.39" height="7.05" fill="#f0f6e0"/>
<rect x="145.32" y="220.75" width="7.39" height="7.05" fill="#fdf4bc"/>
<rect x="152.71" y="220.75" width="7.39" height="7.05" fill="#fdf4bc"/>
<rect x="160.11" y="220.75" width="7.39" height="7.05" fill="#f0f6e0"/>
<rect x="27.00" y="227.80" width="7.39" height="7.05" fill="#fdf4bc"/>
<rect x="34.39" y="227.80" width="7.39" height="7.05" fill="#fdf4bc"/>
<rect x="41.79" y="227.80" width="7.39" height="7.05" fill="#fdf4bc"/>
<rect x="49.18" y="227.80" width="7.39" height="7.05" fill="#fdda94"/>
<rect x="56.58" y="227.80" width="7.39" height="7.05" fill="#dcedf3"/>
<rect x="63.97" y="227.80" width="7.39" height="7.05" fill="#fbbb74"/>
<rect x="71.37" y="227.80" width="7.39" height="7.05" fill="#f7965a"/>
<rect x="78.76" y="227.80" width="7.39" height="7.05" fill="#f0f6e0"/>
<rect x="86.16" y="227.80" width="7.39" height="7.05" fill="#f7965a"/>
<rect x="93.55" y="227.80" width="7.39" height="7.05" fill="#dcedf3"/>
<rect x="100.95" y="227.80" width="7.39" height="7.05" fill="#dcedf3"/>
<rect x="108.34" y="227.80" width="7.39" height="7.05" fill="#f0f6e0"/>
<rect x="115.74" y="227.80" width="7.39" height="7.05" fill="#dcedf3"/>
<rect x="123.13" y="227.80" width="7.39" height="7.05" fill="#fdf4bc"/>
<rect x="130.53" y="227.80" width="7.39" height="7.05" fill="#f7965a"/>
<rect x="137.92" y="227.80" width="7.39" height="7.05" fill="#dcedf3"/>
<rect x="145.32" y="227.80" width="7.39" height="7.05" fill="#fdf4bc"/>
<rect x="152.71" y="227.80" width="7.39" height="7.05" fill="#f0f6e0"/>
<rect x="160.11" y="227.80" width="7.39" height="7.05" fill="#dcedf3"/>
<rect x="27.00" y="234.85" width="7.39" height="7.05" fill="#fbbb74"/>
<rect x="34.39" y="234.85" width="7.39" height="7.05" fill="#fdda94"/>
<rect x="41.79" y="234.85" width="7.39" height="7.05" fill="#fdf4bc"/>
<rect x="49.18" y="234.85" width="7.39" height="7.05" fill="#fdda94"/>
<rect x="56.58" y="234.85" width="7.39" height="7.05" fill="#f7965a"/>
<rect x="63.97" y="234.85" width="7.39" height="7.05" fill="#dcedf3"/>
<rect x="71.37" y="234.85" width="7.39" height="7.05" fill="#f7965a"/>
<rect x="78.76" y="234.85" width="7.39" height="7.05" fill="#fdf4bc"/>
<rect x="86.16" y="234.85" width="7.39" height="7.05" fill="#fdda94"/>
<rect x="93.55" y="234.85" width="7.39" height="7.05" fill="#f0f6e0"/>
<rect x="100.95" y="234.85" width="7.39" height="7.05" fill="#f0f6e0"/>
<rect x="108.34" y="234.85" width="7.39" height="7.05" fill="#f0f6e0"/>
<rect x="115.74" y="234.85" width="7.39" height="7.05" fill="#f0f6e0"/>
<rect x="123.13" y="234.85" width="7.39" height="7.05" fill="#f0f6e0"/>
<rect x="130.53" y="234.85" width="7.39" height="7.05" fill="#f0f6e0"/>
<rect x="137.92" y="234.85" width="7.39" height="7.05" fill="#dcedf3"/>
<rect x="145.32" y="234.85" width="7.39" height="7.05" fill="#bedcee"/>
<rect x="152.71" y="234.85" width="7.39" height="7.05" fill="#f0f6e0"/>
<rect x="160.11" y="234.85" width="7.39" height="7.05" fill="#dcedf3"/>
<rect x="27.00" y="241.90" width="7.39" height="7.05" fill="#fdda94"/>
<rect x="34.39" y="241.90" width="7.39" height="7.05" fill="#fdda94"/>
<rect x="41.79" y="241.90" width="7.39" height="7.05" fill="#fdda94"/>
<rect x="49.18" y="241.90" width="7.39" height="7.05" fill="#fdda94"/>
<rect x="56.58" y="241.90" width="7.39" height="7.05" fill="#f7965a"/>
<rect x="63.97" y="241.90" width="7.39" height="7.05" fill="#f0f6e0"/>
<rect x="71.37" y="241.90" width="7.39" height="7.05" fill="#ee7446"/>
<rect x="78.76" y="241.90" width="7.39" height="7.05" fill="#fdf4bc"/>
<rect x="86.16" y="241.90" width="7.39" height="7.05" fill="#fdf4bc"/>
<rect x="93.55" y="241.90" width="7.39" height="7.05" fill="#f0f6e0"/>
<rect x="100.95" y="241.90" width="7.39" height="7.05" fill="#dcedf3"/>
<rect x="108.34" y="241.90" width="7.39" height="7.05" fill="#f0f6e0"/>
<rect x="115.74" y="241.90" width="7.39" height="7.05" fill="#f0f6e0"/>
<rect x="123.13" y="241.90" width="7.39" height="7.05" fill="#f0f6e0"/>
<rect x="130.53" y="241.90" width="7.39" height="7.05" fill="#fdf4bc"/>
<rect x="137.92" y="241.90" width="7.39" height="7.05" fill="#dcedf3"/>
<rect x="145.32" y="241.90" width="7.39" height="7.05" fill="#dcedf3"/>
<rect x="152.71" y="241.90" width="7.39" height="7.05" fill="#f0f6e0"/>
<rect x="160.11" y="241.90" width="7.39" height="7.05" fill="#dcedf3"/>
<rect x="27.00" y="248.95" width="7.39" height="7.05" fill="#fdda94"/>
<rect x="34.39" y="248.95" width="7.39" height="7.05" fill="#fdf4bc"/>
<rect x="41.79" y="248.95" width="7.39" height="7.05" fill="#bedcee"/>
<rect x="49.18" y="248.95" width="7.39" height="7.05" fill="#fdda94"/>
<rect x="56.58" y="248.95" width="7.39" height="7.05" fill="#f7965a"/>
<rect x="63.97" y="248.95" width="7.39" height="7.05" fill="#f0f6e0"/>
<rect x="71.37" y="248.95" width="7.39" height="7.05" fill="#ee7446"/>
<rect x="78.76" y="248.95" width="7.39" height="7.05" fill="#f0f6e0"/>
<rect x="86.16" y="248.95" width="7.39" height="7.05" fill="#fbbb74"/>
<rect x="93.55" y="248.95" width="7.39" height="7.05" fill="#f0f6e0"/>
<rect x="100.95" y="248.95" width="7.39" height="7.05" fill="#fdf4bc"/>
<rect x="108.34" y="248.95" width="7.39" height="7.05" fill="#f0f6e0"/>
<rect x="115.74" y="248.95" width="7.39" height="7.05" fill="#fdf4bc"/>
<rect x="123.13" y="248.95" width="7.39" height="7.05" fill="#fdf4bc"/>
<rect x="130.53" y="248.95" width="7.39" height="7.05" fill="#fdf4bc"/>
<rect x="137.92" y="248.95" width="7.39" height="7.05" fill="#dcedf3"/>
<rect x="145.32" y="248.95" width="7.39" height="7.05" fill="#dcedf3"/>
<rect x="152.71" y="248.95" width="7.39" height="7.05" fill="#fdf4bc"/>
<rect x="160.11" y="248.95" width="7.39" height="7.05" fill="#dcedf3"/>
<rect x="27.00" y="256.00" width="7.39" height="7.05" fill="#fdda94"/>
<rect x="34.39" y="256.00" width="7.39" height="7.05" fill="#fdda94"/>
<rect x="41.79" y="256.00" width="7.39" height="7.05" fill="#fdf4bc"/>
<rect x="49.18" y="256.00" width="7.39" height="7.05" fill="#fdda94"/>
<rect x="56.58" y="256.00" width="7.39" height="7.05" fill="#f7965a"/>
<rect x="63.97" y="256.00" width="7.39" height="7.05" fill="#fdf4bc"/>
<rect x="71.37" y="256.00" width="7.39" height="7.05" fill="#fbbb74"/>
<rect x="78.76" y="256.00" width="7.39" height="7.05" fill="#fdf4bc"/>
<rect x="86.16" y="256.00" width="7.39" height="7.05" fill="#f0f6e0"/>
<rect x="93.55" y="256.00" width="7.39" height="7.05" fill="#f0f6e0"/>
<rect x="100.95" y="256.00" width="7.39" height="7.05" fill="#a0c6e2"/>
<rect x="108.34" y="256.00" width="7.39" height="7.05" fill="#f0f6e0"/>
<rect x="115.74" y="256.00" width="7.39" height="7.05" fill="#fbbb74"/>
<rect x="123.13" y="256.00" width="7.39" height="7.05" fill="#fdf4bc"/>
<rect x="130.53" y="256.00" width="7.39" height="7.05" fill="#fdf4bc"/>
<rect x="137.92" y="256.00" width="7.39" height="7.05" fill="#dcedf3"/>
<rect x="145.32" y="256.00" width="7.39" height="7.05" fill="#a0c6e2"/>
<rect x="152.71" y="256.00" width="7.39" height="7.05" fill="#f0f6e0"/>
<rect x="160.11" y="256.00" width="7.39" height="7.05" fill="#dcedf3"/>
<rect x="27.00" y="263.05" width="7.39" height="7.05" fill="#fbbb74"/>
<rect x="34.39" y="263.05" width="7.39" height="7.05" fill="#bedcee"/>
<rect x="41.79" y="263.05" width="7.39" height="7.05" fill="#fdda94"/>
<rect x="49.18" y="263.05" width="7.39" height="7.05" fill="#fdf4bc"/>
<rect x="56.58" y="263.05" width="7.39" height="7.05" fill="#fdda94"/>
<rect x="63.97" y="263.05" width="7.39" height="7.05" fill="#dcedf3"/>
<rect x="71.37" y="263.05" width="7.39" height="7.05" fill="#fdf4bc"/>
<rect x="78.76" y="263.05" width="7.39" height="7.05" fill="#fdda94"/>
<rect x="86.16" y="263.05" width="7.39" height="7.05" fill="#fdda94"/>
<rect x="93.55" y="263.05" width="7.39" height="7.05" fill="#dcedf3"/>
<rect x="100.95" y="263.05" width="7.39" height="7.05" fill="#f0f6e0"/>
<rect x="108.34" y="263.05" width="7.39" height="7.05" fill="#fdf4bc"/>
<rect x="115.74" y="263.05" width="7.39" height="7.05" fill="#fdf4bc"/>
<rect x="123.13" y="263.05" width="7.39" height="7.05" fill="#fdda94"/>
<rect x="130.53" y="263.05" width="7.39" height="7.05" fill="#fdda94"/>
<rect x="137.92" y="263.05" width="7.39" height="7.05" fill="#dcedf3"/>
<rect x="145.32" y="263.05" width="7.39" height="7.05" fill="#dcedf3"/>
<rect x="152.71" y="263.05" width="7.39" height="7.05" fill="#f0f6e0"/>
<rect x="160.11" y="263.05" width="7.39" height="7.05" fill="#dcedf3"/>
<rect x="27.00" y="270.10" width="7.39" height="7.05" fill="#fdf4bc"/>
<rect x="34.39" y="270.10" width="7.39" height="7.05" fill="#fdf4bc"/>
<rect x="41.79" y="270.10" width="7.39" height="7.05" fill="#f0f6e0"/>
<rect x="49.18" y="270.10" width="7.39" height="7.05" fill="#f7965a"/>
<rect x="56.58" y="270.10" width="7.39" height="7.05" fill="#f7965a"/>
<rect x="63.97" y="270.10" width="7.39" height="7.05" fill="#f0f6e0"/>
<rect x="71.37" y="270.10" width="7.39" height="7.05" fill="#fdda94"/>
<rect x="78.76" y="270.10" width="7.39" height="7.05" fill="#fdf4bc"/>
<rect x="86.16" y="270.10" width="7.39" height="7.05" fill="#fdda94"/>
<rect x="93.55" y="270.10" width="7.39" height="7.05" fill="#f0f6e0"/>
<rect x="100.95" y="270.10" width="7.39" height="7.05" fill="#fdf4bc"/>
<rect x="108.34" y="270.10" width="7.39" height="7.05" fill="#f0f6e0"/>
<rect x="115.74" y="270.10" width="7.39" height="7.05" fill="#dcedf3"/>
<rect x="123.13" y="270.10" width="7.39" height="7.05" fill="#fdda94"/>
<rect x="130.53" y="270.10" width="7.39" height="7.05" fill="#f0f6e0"/>
<rect x="137.92" y="270.10" width="7.39" height="7.05" fill="#dcedf3"/>
<rect x="145.32" y="270.10" width="7.39" height="7.05" fill="#f0f6e0"/>
<rect x="152.71" y="270.10" width="7.39" height="7.05" fill="#f0f6e0"/>
<rect x="160.11" y="270.10" width="7.39" height="7.05" fill="#dcedf3"/>
<rect x="27.00" y="277.15" width="7.39" height="7.05" fill="#fdf4bc"/>
<rect x="34.39" y="277.15" width="7.39" height="7.05" fill="#fdf4bc"/>
<rect x="41.79" y="277.15" width="7.39" height="7.05" fill="#fdda94"/>
<rect x="49.18" y="277.15" width="7.39" height="7.05" fill="#f7965a"/>
<rect x="56.58" y="277.15" width="7.39" height="7.05" fill="#ee7446"/>
<rect x="63.97" y="277.15" width="7.39" height="7.05" fill="#f0f6e0"/>
<rect x="71.37" y="277.15" width="7.39" height="7.05" fill="#fdda94"/>
<rect x="78.76" y="277.15" width="7.39" height="7.05" fill="#fdf4bc"/>
<rect x="86.16" y="277.15" width="7.39" height="7.05" fill="#fdf4bc"/>
<rect x="93.55" y="277.15" width="7.39" height="7.05" fill="#f0f6e0"/>
<rect x="100.95" y="277.15" width="7.39" height="7.05" fill="#f0f6e0"/>
<rect x="108.34" y="277.15" width="7.39" height="7.05" fill="#f0f6e0"/>
<rect x="115.74" y="277.15" width="7.39" height="7.05" fill="#f0f6e0"/>
<rect x="123.13" y="277.15" width="7.39" height="7.05" fill="#fdda94"/>
<rect x="130.53" y="277.15" width="7.39" height="7.05" fill="#fdda94"/>
<rect x="137.92" y="277.15" width="7.39" height="7.05" fill="#f0f6e0"/>
<rect x="145.32" y="277.15" width="7.39" height="7.05" fill="#f0f6e0"/>
<rect x="152.71" y="277.15" width="7.39" height="7.05" fill="#dcedf3"/>
<rect x="160.11" y="277.15" width="7.39" height="7.05" fill="#f0f6e0"/>
<path d="M27.00 2.20V284.20M34.39 2.20V284.20M41.79 2.20V284.20M49.18 2.20V284.20M56.58 2.20V284.20M63.97 2.20V284.20M71.37 2.20V284.20M78.76 2.20V284.20M86.16 2.20V284.20M93.55 2.20V284.20M100.95 2.20V284.20M108.34 2.20V284.20M115.74 2.20V284.20M123.13 2.20V284.20M130.53 2.20V284.20M137.92 2.20V284.20M145.32 2.20V284.20M152.71 2.20V284.20M160.11 2.20V284.20M167.50 2.20V284.20M27.00 2.20H167.50M27.00 9.25H167.50M27.00 16.30H167.50M27.00 23.35H167.50M27.00 30.40H167.50M27.00 37.45H167.50M27.00 44.50H167.50M27.00 51.55H167.50M27.00 58.60H167.50M27.00 65.65H167.50M27.00 72.70H167.50M27.00 79.75H167.50M27.00 86.80H167.50M27.00 93.85H167.50M27.00 100.90H167.50M27.00 107.95H167.50M27.00 115.00H167.50M27.00 122.05H167.50M27.00 129.10H167.50M27.00 136.15H167.50M27.00 143.20H167.50M27.00 150.25H167.50M27.00 157.30H167.50M27.00 164.35H167.50M27.00 171.40H167.50M27.00 178.45H167.50M27.00 185.50H167.50M27.00 192.55H167.50M27.00 199.60H167.50M27.00 206.65H167.50M27.00 213.70H167.50M27.00 220.75H167.50M27.00 227.80H167.50M27.00 234.85H167.50M27.00 241.90H167.50M27.00 248.95H167.50M27.00 256.00H167.50M27.00 263.05H167.50M27.00 270.10H167.50M27.00 277.15H167.50M27.00 284.20H167.50" stroke="#adadad" stroke-width="0.45" fill="none" opacity="0.6"/>
<path d="M26.60 5.72H21.40V12.77H26.60M26.60 19.82H23.40V26.88H26.60M21.40 9.25H19.50V23.35H23.40M26.60 40.98H21.40V48.02H26.60M26.60 33.92H20.10V44.50H21.40M19.50 16.30H18.50V39.21H20.10M26.60 55.08H22.70V62.12H26.60M22.70 58.60H20.80V69.17H26.60M20.80 63.89H19.50V76.22H26.60M26.60 83.28H23.10V90.33H26.60M26.60 97.38H20.80V104.42H26.60M23.10 86.80H19.50V100.90H20.80M19.50 70.06H18.00V93.85H19.50M18.50 27.76H16.90V81.95H18.00M26.60 111.47H18.80V118.53H26.60M26.60 132.62H20.80V139.67H26.60M26.60 125.58H18.20V136.15H20.80M18.80 115.00H16.20V130.86H18.20M16.90 54.85H15.00V122.93H16.20M26.60 146.72H22.70V153.77H26.60M26.60 167.87H23.40V174.92H26.60M26.60 160.82H20.10V171.40H23.40M26.60 181.97H23.40V189.02H26.60M23.40 185.50H21.40V196.07H26.60M26.60 203.12H23.40V210.17H26.60M26.60 217.22H19.50V224.27H26.60M23.40 206.65H17.50V220.75H19.50M21.40 190.79H19.50V213.70H17.50M20.10 166.11H19.00V202.24H19.50M22.70 150.25H16.90V184.18H19.00M26.60 238.37H21.40V245.42H26.60M26.60 252.47H21.40V259.52H26.60M21.40 241.90H19.50V256.00H21.40M26.60 273.62H20.80V280.67H26.60M26.60 266.57H19.80V277.15H20.80M19.50 248.95H18.80V271.86H19.80M26.60 231.32H16.20V260.41H18.80M16.90 167.21H14.30V245.87H16.20M15.00 88.89H10.40V206.54H14.30" stroke="#8a8a8a" stroke-width="0.45" fill="none"/>
<text x="169" y="6.92" font-family="Liberation Serif, serif" font-size="3.6" fill="#222">PRG4</text>
<text x="169" y="13.97" font-family="Liberation Serif, serif" font-size="3.6" fill="#222">E2F2</text>
<text x="169" y="21.02" font-family="Liberation Serif, serif" font-size="3.6" fill="#222">CXCL7</text>
<text x="169" y="28.07" font-family="Liberation Serif, serif" font-size="3.6" fill="#222">FOXC2</text>
<text x="169" y="35.12" font-family="Liberation Serif, serif" font-size="3.6" fill="#222">PRG1</text>
<text x="169" y="42.18" font-family="Liberation Serif, serif" font-size="3.6" fill="#222">ALPL</text>
<text x="169" y="49.23" font-family="Liberation Serif, serif" font-size="3.6" fill="#222">BLNK1</text>
<text x="169" y="56.28" font-family="Liberation Serif, serif" font-size="3.6" fill="#222">CDKN2D</text>
<text x="169" y="63.33" font-family="Liberation Serif, serif" font-size="3.6" fill="#222">SNAI3P</text>
<text x="169" y="70.38" font-family="Liberation Serif, serif" font-size="3.6" fill="#222">PPP1R3</text>
<text x="169" y="77.42" font-family="Liberation Serif, serif" font-size="3.6" fill="#222">TOX3</text>
<text x="169" y="84.48" font-family="Liberation Serif, serif" font-size="3.6" fill="#222">GAPL</text>
<text x="169" y="91.53" font-family="Liberation Serif, serif" font-size="3.6" fill="#222">MCSP12</text>
<text x="169" y="98.58" font-family="Liberation Serif, serif" font-size="3.6" fill="#222">ZNF296</text>
<text x="169" y="105.62" font-family="Liberation Serif, serif" font-size="3.6" fill="#222">ID1</text>
<text x="169" y="112.67" font-family="Liberation Serif, serif" font-size="3.6" fill="#222">CREB5</text>
<text x="169" y="119.73" font-family="Liberation Serif, serif" font-size="3.6" fill="#222">TOP1MT</text>
<text x="169" y="126.78" font-family="Liberation Serif, serif" font-size="3.6" fill="#222">KYAT1</text>
<text x="169" y="133.82" font-family="Liberation Serif, serif" font-size="3.6" fill="#222">HLA-DRB6</text>
<text x="169" y="140.87" font-family="Liberation Serif, serif" font-size="3.6" fill="#222">SAP3</text>
<text x="169" y="147.92" font-family="Liberation Serif, serif" font-size="3.6" fill="#222">FGB1</text>
<text x="169" y="154.97" font-family="Liberation Serif, serif" font-size="3.6" fill="#222">FGB2</text>
<text x="169" y="162.02" font-family="Liberation Serif, serif" font-size="3.6" fill="#222">ETS1</text>
<text x="169" y="169.07" font-family="Liberation Serif, serif" font-size="3.6" fill="#222">CYBB</text>
<text x="169" y="176.12" font-family="Liberation Serif, serif" font-size="3.6" fill="#222">CLT</text>
<text x="169" y="183.17" font-family="Liberation Serif, serif" font-size="3.6" fill="#222">DEFA1B</text>
<text x="169" y="190.22" font-family="Liberation Serif, serif" font-size="3.6" fill="#222">GAPT</text>
<text x="169" y="197.27" font-family="Liberation Serif, serif" font-size="3.6" fill="#222">CXCL5</text>
<text x="169" y="204.32" font-family="Liberation Serif, serif" font-size="3.6" fill="#222">HSPA1A</text>
<text x="169" y="211.37" font-family="Liberation Serif, serif" font-size="3.6" fill="#222">GIMAP8</text>
<text x="169" y="218.42" font-family="Liberation Serif, serif" font-size="3.6" fill="#222">GIMAP7</text>
<text x="169" y="225.47" font-family="Liberation Serif, serif" font-size="3.6" fill="#222">IFNG2</text>
<text x="169" y="232.52" font-family="Liberation Serif, serif" font-size="3.6" fill="#222">SNORD3A</text>
<text x="169" y="239.57" font-family="Liberation Serif, serif" font-size="3.6" fill="#222">PTGS2</text>
<text x="169" y="246.62" font-family="Liberation Serif, serif" font-size="3.6" fill="#222">SERPINB2</text>
<text x="169" y="253.67" font-family="Liberation Serif, serif" font-size="3.6" fill="#222">CXCL2</text>
<text x="169" y="260.72" font-family="Liberation Serif, serif" font-size="3.6" fill="#222">IL1B</text>
<text x="169" y="267.77" font-family="Liberation Serif, serif" font-size="3.6" fill="#222">HLA-DRB4</text>
<text x="169" y="274.82" font-family="Liberation Serif, serif" font-size="3.6" fill="#222">FOSB</text>
<text x="169" y="281.87" font-family="Liberation Serif, serif" font-size="3.6" fill="#222">NR4A2</text>
<rect x="27.0" y="285.2" width="66.55" height="2.5" fill="#1b7dd0"/>
<rect x="93.55" y="285.2" width="73.95" height="2.5" fill="#ee931f"/>
<text transform="translate(29.45,289.3) rotate(90)" font-family="Liberation Serif, serif" font-size="3.6" fill="#333">GSM117232</text>
<text transform="translate(36.84,289.3) rotate(90)" font-family="Liberation Serif, serif" font-size="3.6" fill="#333">GSM117233</text>
<text transform="translate(44.24,289.3) rotate(90)" font-family="Liberation Serif, serif" font-size="3.6" fill="#333">GSM117234</text>
<text transform="translate(51.63,289.3) rotate(90)" font-family="Liberation Serif, serif" font-size="3.6" fill="#333">GSM117235</text>
<text transform="translate(59.03,289.3) rotate(90)" font-family="Liberation Serif, serif" font-size="3.6" fill="#333">GSM117236</text>
<text transform="translate(66.42,289.3) rotate(90)" font-family="Liberation Serif, serif" font-size="3.6" fill="#333">GSM117237</text>
<text transform="translate(73.82,289.3) rotate(90)" font-family="Liberation Serif, serif" font-size="3.6" fill="#333">GSM117238</text>
<text transform="translate(81.21,289.3) rotate(90)" font-family="Liberation Serif, serif" font-size="3.6" fill="#333">GSM117239</text>
<text transform="translate(88.61,289.3) rotate(90)" font-family="Liberation Serif, serif" font-size="3.6" fill="#333">GSM117240</text>
<text transform="translate(96.00,289.3) rotate(90)" font-family="Liberation Serif, serif" font-size="3.6" fill="#333">GSM117241</text>
<text transform="translate(103.39,289.3) rotate(90)" font-family="Liberation Serif, serif" font-size="3.6" fill="#333">GSM117242</text>
<text transform="translate(110.79,289.3) rotate(90)" font-family="Liberation Serif, serif" font-size="3.6" fill="#333">GSM117243</text>
<text transform="translate(118.18,289.3) rotate(90)" font-family="Liberation Serif, serif" font-size="3.6" fill="#333">GSM117244</text>
<text transform="translate(125.58,289.3) rotate(90)" font-family="Liberation Serif, serif" font-size="3.6" fill="#333">GSM117245</text>
<text transform="translate(132.97,289.3) rotate(90)" font-family="Liberation Serif, serif" font-size="3.6" fill="#333">GSM117246</text>
<text transform="translate(140.37,289.3) rotate(90)" font-family="Liberation Serif, serif" font-size="3.6" fill="#333">GSM117247</text>
<text transform="translate(147.76,289.3) rotate(90)" font-family="Liberation Serif, serif" font-size="3.6" fill="#333">GSM117248</text>
<text transform="translate(155.16,289.3) rotate(90)" font-family="Liberation Serif, serif" font-size="3.6" fill="#333">GSM117249</text>
<text transform="translate(162.55,289.3) rotate(90)" font-family="Liberation Serif, serif" font-size="3.6" fill="#333">GSM117250</text>
<defs><linearGradient id="cb" x1="0" y1="0" x2="0" y2="1"><stop offset="0" stop-color="#b02a26"/><stop offset="0.1" stop-color="#dc5a3c"/><stop offset="0.22" stop-color="#f8a466"/><stop offset="0.38" stop-color="#fee49a"/><stop offset="0.52" stop-color="#fcfce0"/><stop offset="0.66" stop-color="#d6eaf2"/><stop offset="0.83" stop-color="#8cb6d4"/><stop offset="1" stop-color="#44729f"/></linearGradient></defs>
<rect x="183.5" y="5" width="3.5" height="45" fill="url(#cb)"/>
<text x="183.5" y="3.2" font-family="Liberation Serif, serif" font-size="3.6" fill="#333">expression</text>
<text x="188" y="7.40" font-family="Liberation Serif, serif" font-size="3.4" fill="#333">3</text>
<text x="188" y="14.55" font-family="Liberation Serif, serif" font-size="3.4" fill="#333">2</text>
<text x="188" y="21.70" font-family="Liberation Serif, serif" font-size="3.4" fill="#333">1</text>
<text x="188" y="28.85" font-family="Liberation Serif, serif" font-size="3.4" fill="#333">0</text>
<text x="188" y="36.00" font-family="Liberation Serif, serif" font-size="3.4" fill="#333">-1</text>
<text x="188" y="43.15" font-family="Liberation Serif, serif" font-size="3.4" fill="#333">-2</text>
<text x="188" y="50.30" font-family="Liberation Serif, serif" font-size="3.4" fill="#333">-3</text>
<text x="183.5" y="54.5" textLength="19" lengthAdjust="spacingAndGlyphs" font-family="Liberation Serif, serif" font-size="3.7" fill="#333">comparison</text>
<rect x="183.5" y="55.7" width="3.4" height="3.4" fill="#1b7dd0"/>
<rect x="183.5" y="61.5" width="3.4" height="3.4" fill="#ee931f"/>
<text x="188.3" y="58.9" font-family="Liberation Serif, serif" font-size="3.6" fill="#333">healthy</text>
<text x="188.3" y="64.5" font-family="Liberation Serif, serif" font-size="3.6" fill="#333">disease</text>
<text x="3.7" y="9.1" font-family="Liberation Sans, sans-serif" font-weight="bold" font-size="6.6" fill="#111">A</text>
<text x="209.3" y="9" font-family="Liberation Sans, sans-serif" font-weight="bold" font-size="7" fill="#111">B</text>
<text x="209.8" y="174.2" font-family="Liberation Sans, sans-serif" font-weight="bold" font-size="7" fill="#111">C</text>
<defs><clipPath id="pc"><rect x="228.5" y="2.6" width="150.39999999999998" height="144.4"/></clipPath></defs>
<path d="M233.20 2.6V147.0M271.40 2.6V147.0M309.60 2.6V147.0M347.80 2.6V147.0M228.5 140.75H378.9M228.5 102.51H378.9M228.5 64.27H378.9M228.5 26.03H378.9" stroke="#ebebeb" stroke-width="0.5"/>
<path d="M252.30 2.6V147.0M290.50 2.6V147.0M328.70 2.6V147.0M366.90 2.6V147.0M228.5 121.63H378.9M228.5 83.39H378.9M228.5 45.15H378.9M228.5 6.91H378.9" stroke="#f3f3f3" stroke-width="0.3"/>
<g clip-path="url(#pc)">
<polygon points="279.2,116 279.2,78 280.5,72 283,68 287,66 291,66.5 295,68 299,70 302,86 305,100 306.2,117 307.9,129 309.2,137.4 310.7,129 312.4,117 314,100 316.5,86 318.5,70 320,64 323,60.5 328,58.5 333,59 337,61 339.4,64 339.4,116 338.7,119 337,125.6 330,132.5 320,140.5 309.2,145 298,140.5 288,132.5 282.8,125.6 279.4,119" fill="#dcdcdc"/>
<polygon points="279.6,116 280,90 282,82 286,78 291,77.5 296,79 299.5,82 301.5,90 304,102 306.2,117 307.9,129 309.2,137.4 310.7,129 312.4,117 314.5,102 316.5,90 318,80 320,72 324,68.5 330,68 335,69.5 339.2,74 339.2,116 337.5,120 333,126 326,132.5 318,139.5 309.2,143.5 300,139.5 292,132.5 285,126 280.5,120" fill="#d0d0d0"/>
<polygon points="282,116 283,100 286,92 291,89 296,90 300,94 302.5,104 306.2,117 307.9,129 309.2,137.4 310.7,129 312.4,117 314.5,104 316.5,92 319,85 324,81.5 330,81.5 335,84 337.5,92 337.5,116 336,120 330.2,125.6 323.5,132.3 316.7,139.1 309.2,142.5 301.4,139.1 294.6,132.3 287.9,125.6 283.5,120" fill="#c7c7c7"/>
<circle cx="279.83" cy="100.21" r="1.1" fill="#c0c0c0" opacity="0.35"/>
<circle cx="281.99" cy="92.33" r="1.1" fill="#e2e2e2" opacity="0.35"/>
<circle cx="284.17" cy="73.21" r="1.1" fill="#c0c0c0" opacity="0.35"/>
<circle cx="338.55" cy="106.82" r="1.1" fill="#c0c0c0" opacity="0.35"/>
<circle cx="332.66" cy="79.51" r="1.1" fill="#c0c0c0" opacity="0.35"/>
<circle cx="283.77" cy="81.31" r="1.1" fill="#e2e2e2" opacity="0.35"/>
<circle cx="287.93" cy="107.25" r="1.1" fill="#c0c0c0" opacity="0.35"/>
<circle cx="300.58" cy="104.04" r="1.1" fill="#c0c0c0" opacity="0.35"/>
<circle cx="320.91" cy="92.62" r="1.1" fill="#c0c0c0" opacity="0.35"/>
<circle cx="295.78" cy="127.47" r="1.1" fill="#c0c0c0" opacity="0.35"/>
<circle cx="292.11" cy="106.57" r="1.1" fill="#c0c0c0" opacity="0.35"/>
<circle cx="333.76" cy="121.30" r="1.1" fill="#c0c0c0" opacity="0.35"/>
<circle cx="303.60" cy="123.93" r="1.1" fill="#c0c0c0" opacity="0.35"/>
<circle cx="320.10" cy="124.63" r="1.1" fill="#c0c0c0" opacity="0.35"/>
<circle cx="333.78" cy="81.81" r="1.1" fill="#c0c0c0" opacity="0.35"/>
<circle cx="315.23" cy="107.09" r="1.1" fill="#c0c0c0" opacity="0.35"/>
<circle cx="280.00" cy="118.64" r="1.1" fill="#c0c0c0" opacity="0.35"/>
<circle cx="294.78" cy="88.65" r="1.1" fill="#c0c0c0" opacity="0.35"/>
<circle cx="284.54" cy="75.52" r="1.1" fill="#c0c0c0" opacity="0.35"/>
<circle cx="333.51" cy="59.66" r="1.1" fill="#c0c0c0" opacity="0.35"/>
<circle cx="312.26" cy="135.92" r="1.1" fill="#e2e2e2" opacity="0.35"/>
<circle cx="333.02" cy="78.45" r="1.1" fill="#c0c0c0" opacity="0.35"/>
<circle cx="299.68" cy="136.00" r="1.1" fill="#e2e2e2" opacity="0.35"/>
<circle cx="285.96" cy="68.74" r="1.1" fill="#c0c0c0" opacity="0.35"/>
<circle cx="291.40" cy="98.07" r="1.1" fill="#c0c0c0" opacity="0.35"/>
<circle cx="313.38" cy="142.54" r="1.1" fill="#c0c0c0" opacity="0.35"/>
<circle cx="335.37" cy="126.10" r="1.1" fill="#e2e2e2" opacity="0.35"/>
<circle cx="328.66" cy="89.28" r="1.1" fill="#c0c0c0" opacity="0.35"/>
<circle cx="282.83" cy="112.26" r="1.1" fill="#c0c0c0" opacity="0.35"/>
<circle cx="286.71" cy="84.31" r="1.1" fill="#c0c0c0" opacity="0.35"/>
<circle cx="282.70" cy="86.54" r="1.1" fill="#c0c0c0" opacity="0.35"/>
<circle cx="333.71" cy="110.34" r="1.1" fill="#c0c0c0" opacity="0.35"/>
<circle cx="292.65" cy="85.00" r="1.1" fill="#c0c0c0" opacity="0.35"/>
<circle cx="282.74" cy="84.55" r="1.1" fill="#c0c0c0" opacity="0.35"/>
<circle cx="330.70" cy="67.34" r="1.1" fill="#c0c0c0" opacity="0.35"/>
<circle cx="338.77" cy="102.18" r="1.1" fill="#c0c0c0" opacity="0.35"/>
<circle cx="332.98" cy="118.14" r="1.1" fill="#c0c0c0" opacity="0.35"/>
<circle cx="326.95" cy="102.60" r="1.1" fill="#e2e2e2" opacity="0.35"/>
<circle cx="297.76" cy="73.19" r="1.1" fill="#e2e2e2" opacity="0.35"/>
<circle cx="329.20" cy="129.74" r="1.1" fill="#c0c0c0" opacity="0.35"/>
<circle cx="290.96" cy="101.18" r="1.1" fill="#c0c0c0" opacity="0.35"/>
<circle cx="294.44" cy="76.62" r="1.1" fill="#c0c0c0" opacity="0.35"/>
<circle cx="339.13" cy="94.49" r="1.1" fill="#e2e2e2" opacity="0.35"/>
<circle cx="290.97" cy="70.69" r="1.1" fill="#c0c0c0" opacity="0.35"/>
<circle cx="317.19" cy="137.53" r="1.1" fill="#e2e2e2" opacity="0.35"/>
<circle cx="328.78" cy="60.05" r="1.1" fill="#c0c0c0" opacity="0.35"/>
<circle cx="336.05" cy="126.32" r="1.1" fill="#e2e2e2" opacity="0.35"/>
<circle cx="328.08" cy="83.59" r="1.1" fill="#e2e2e2" opacity="0.35"/>
<circle cx="302.49" cy="141.95" r="1.1" fill="#c0c0c0" opacity="0.35"/>
<circle cx="329.23" cy="65.89" r="1.1" fill="#e2e2e2" opacity="0.35"/>
<circle cx="299.13" cy="104.12" r="1.1" fill="#c0c0c0" opacity="0.35"/>
<circle cx="318.88" cy="102.03" r="1.1" fill="#e2e2e2" opacity="0.35"/>
<circle cx="304.63" cy="134.82" r="1.1" fill="#e2e2e2" opacity="0.35"/>
<circle cx="289.93" cy="75.92" r="1.1" fill="#c0c0c0" opacity="0.35"/>
<circle cx="291.88" cy="107.71" r="1.1" fill="#c0c0c0" opacity="0.35"/>
<circle cx="336.06" cy="85.61" r="1.1" fill="#c0c0c0" opacity="0.35"/>
<circle cx="314.50" cy="137.91" r="1.1" fill="#c0c0c0" opacity="0.35"/>
<circle cx="336.57" cy="99.66" r="1.1" fill="#c0c0c0" opacity="0.35"/>
<circle cx="287.37" cy="96.98" r="1.1" fill="#c0c0c0" opacity="0.35"/>
<circle cx="327.76" cy="62.08" r="1.1" fill="#c0c0c0" opacity="0.35"/>
<circle cx="292.40" cy="78.31" r="1.1" fill="#e2e2e2" opacity="0.35"/>
<circle cx="305.25" cy="110.19" r="1.1" fill="#c0c0c0" opacity="0.35"/>
<circle cx="307.55" cy="141.44" r="1.1" fill="#c0c0c0" opacity="0.35"/>
<circle cx="293.13" cy="105.15" r="1.1" fill="#e2e2e2" opacity="0.35"/>
<circle cx="331.44" cy="65.03" r="1.1" fill="#c0c0c0" opacity="0.35"/>
<circle cx="320.19" cy="126.47" r="1.1" fill="#e2e2e2" opacity="0.35"/>
<circle cx="286.19" cy="120.03" r="1.1" fill="#c0c0c0" opacity="0.35"/>
<circle cx="338.87" cy="89.83" r="1.1" fill="#c0c0c0" opacity="0.35"/>
<circle cx="286.66" cy="92.99" r="1.1" fill="#c0c0c0" opacity="0.35"/>
<circle cx="298.38" cy="70.60" r="1.1" fill="#c0c0c0" opacity="0.35"/>
<circle cx="317.18" cy="100.66" r="1.1" fill="#c0c0c0" opacity="0.35"/>
<circle cx="327.41" cy="77.69" r="1.1" fill="#c0c0c0" opacity="0.35"/>
<circle cx="303.87" cy="138.58" r="1.1" fill="#e2e2e2" opacity="0.35"/>
<circle cx="336.67" cy="106.21" r="1.1" fill="#c0c0c0" opacity="0.35"/>
<circle cx="321.42" cy="92.41" r="1.1" fill="#c0c0c0" opacity="0.35"/>
<circle cx="337.93" cy="112.27" r="1.1" fill="#e2e2e2" opacity="0.35"/>
<circle cx="312.50" cy="140.03" r="1.1" fill="#c0c0c0" opacity="0.35"/>
<circle cx="284.53" cy="102.06" r="1.1" fill="#c0c0c0" opacity="0.35"/>
<circle cx="296.59" cy="80.98" r="1.1" fill="#e2e2e2" opacity="0.35"/>
<circle cx="295.14" cy="99.51" r="1.1" fill="#c0c0c0" opacity="0.35"/>
<circle cx="324.38" cy="104.35" r="1.1" fill="#c0c0c0" opacity="0.35"/>
<circle cx="307.33" cy="140.79" r="1.1" fill="#c0c0c0" opacity="0.35"/>
<circle cx="330.05" cy="93.06" r="1.1" fill="#c0c0c0" opacity="0.35"/>
<circle cx="331.08" cy="89.34" r="1.1" fill="#c0c0c0" opacity="0.35"/>
<circle cx="298.62" cy="131.07" r="1.1" fill="#c0c0c0" opacity="0.35"/>
<circle cx="317.97" cy="90.45" r="1.1" fill="#c0c0c0" opacity="0.35"/>
<circle cx="292.87" cy="67.51" r="1.1" fill="#c0c0c0" opacity="0.35"/>
<circle cx="320.26" cy="78.78" r="1.1" fill="#c0c0c0" opacity="0.35"/>
<circle cx="295.34" cy="95.65" r="1.1" fill="#c0c0c0" opacity="0.35"/>
<circle cx="301.19" cy="97.09" r="1.1" fill="#c0c0c0" opacity="0.35"/>
<circle cx="289.26" cy="99.95" r="1.1" fill="#c0c0c0" opacity="0.35"/>
<circle cx="291.37" cy="107.63" r="1.1" fill="#c0c0c0" opacity="0.35"/>
<circle cx="325.54" cy="114.47" r="1.1" fill="#c0c0c0" opacity="0.35"/>
<circle cx="334.02" cy="89.00" r="1.1" fill="#c0c0c0" opacity="0.35"/>
<circle cx="323.79" cy="113.11" r="1.1" fill="#c0c0c0" opacity="0.35"/>
<circle cx="317.40" cy="121.72" r="1.1" fill="#e2e2e2" opacity="0.35"/>
<circle cx="285.19" cy="101.76" r="1.1" fill="#c0c0c0" opacity="0.35"/>
<circle cx="331.11" cy="128.44" r="1.1" fill="#e2e2e2" opacity="0.35"/>
<circle cx="314.55" cy="136.82" r="1.1" fill="#c0c0c0" opacity="0.35"/>
<circle cx="321.76" cy="73.84" r="1.1" fill="#c0c0c0" opacity="0.35"/>
<circle cx="284.78" cy="86.27" r="1.1" fill="#c0c0c0" opacity="0.35"/>
<circle cx="331.16" cy="105.06" r="1.1" fill="#c0c0c0" opacity="0.35"/>
<circle cx="317.33" cy="116.66" r="1.1" fill="#c0c0c0" opacity="0.35"/>
<circle cx="325.39" cy="99.78" r="1.1" fill="#c0c0c0" opacity="0.35"/>
<circle cx="324.63" cy="75.96" r="1.1" fill="#c0c0c0" opacity="0.35"/>
<circle cx="293.53" cy="121.29" r="1.1" fill="#c0c0c0" opacity="0.35"/>
<circle cx="326.62" cy="110.61" r="1.1" fill="#c0c0c0" opacity="0.35"/>
<circle cx="292.76" cy="122.61" r="1.1" fill="#c0c0c0" opacity="0.35"/>
<circle cx="280.00" cy="77.53" r="1.1" fill="#c0c0c0" opacity="0.35"/>
<circle cx="321.68" cy="116.19" r="1.1" fill="#c0c0c0" opacity="0.35"/>
<circle cx="334.98" cy="70.93" r="1.1" fill="#e2e2e2" opacity="0.35"/>
<circle cx="306.29" cy="129.89" r="1.1" fill="#e2e2e2" opacity="0.35"/>
<circle cx="289.91" cy="107.24" r="1.1" fill="#c0c0c0" opacity="0.35"/>
<circle cx="310.59" cy="142.51" r="1.1" fill="#c0c0c0" opacity="0.35"/>
<circle cx="330.13" cy="100.33" r="1.1" fill="#e2e2e2" opacity="0.35"/>
<circle cx="322.42" cy="73.98" r="1.1" fill="#e2e2e2" opacity="0.35"/>
<circle cx="285.29" cy="84.68" r="1.1" fill="#c0c0c0" opacity="0.35"/>
<circle cx="325.55" cy="131.72" r="1.1" fill="#c0c0c0" opacity="0.35"/>
<circle cx="337.14" cy="119.74" r="1.1" fill="#e2e2e2" opacity="0.35"/>
<circle cx="295.13" cy="87.36" r="1.1" fill="#c0c0c0" opacity="0.35"/>
<circle cx="299.81" cy="92.67" r="1.1" fill="#c0c0c0" opacity="0.35"/>
<circle cx="331.09" cy="79.13" r="1.1" fill="#e2e2e2" opacity="0.35"/>
<circle cx="292.46" cy="77.24" r="1.1" fill="#c0c0c0" opacity="0.35"/>
<circle cx="288.53" cy="87.47" r="1.1" fill="#e2e2e2" opacity="0.35"/>
<circle cx="317.64" cy="138.78" r="1.1" fill="#e2e2e2" opacity="0.35"/>
<circle cx="312.25" cy="120.36" r="1.1" fill="#c0c0c0" opacity="0.35"/>
<circle cx="324.34" cy="94.83" r="1.1" fill="#e2e2e2" opacity="0.35"/>
<circle cx="318.54" cy="79.19" r="1.1" fill="#c0c0c0" opacity="0.35"/>
<circle cx="337.17" cy="64.09" r="1.1" fill="#c0c0c0" opacity="0.35"/>
<circle cx="298.68" cy="80.29" r="1.1" fill="#c0c0c0" opacity="0.35"/>
<circle cx="319.30" cy="80.58" r="1.1" fill="#c0c0c0" opacity="0.35"/>
<circle cx="286.67" cy="71.75" r="1.1" fill="#e2e2e2" opacity="0.35"/>
<circle cx="291.78" cy="76.54" r="1.1" fill="#c0c0c0" opacity="0.35"/>
<circle cx="334.56" cy="123.22" r="1.1" fill="#c0c0c0" opacity="0.35"/>
<circle cx="303.32" cy="101.80" r="1.1" fill="#c0c0c0" opacity="0.35"/>
<circle cx="284.31" cy="99.82" r="1.1" fill="#c0c0c0" opacity="0.35"/>
<circle cx="332.95" cy="72.52" r="1.1" fill="#c0c0c0" opacity="0.35"/>
<circle cx="292.40" cy="89.98" r="1.1" fill="#c0c0c0" opacity="0.35"/>
<circle cx="335.12" cy="96.96" r="1.1" fill="#c0c0c0" opacity="0.35"/>
<circle cx="286.19" cy="101.62" r="1.1" fill="#c0c0c0" opacity="0.35"/>
<circle cx="338.14" cy="120.56" r="1.1" fill="#c0c0c0" opacity="0.35"/>
<circle cx="326.48" cy="95.45" r="1.1" fill="#c0c0c0" opacity="0.35"/>
<circle cx="318.60" cy="80.86" r="1.1" fill="#c0c0c0" opacity="0.35"/>
<circle cx="292.62" cy="112.45" r="1.1" fill="#c0c0c0" opacity="0.35"/>
<circle cx="295.90" cy="95.77" r="1.1" fill="#e2e2e2" opacity="0.35"/>
<circle cx="318.54" cy="135.96" r="1.1" fill="#c0c0c0" opacity="0.35"/>
<circle cx="291.49" cy="75.47" r="1.1" fill="#e2e2e2" opacity="0.35"/>
<circle cx="322.51" cy="81.20" r="1.1" fill="#c0c0c0" opacity="0.35"/>
<circle cx="320.05" cy="139.89" r="1.1" fill="#c0c0c0" opacity="0.35"/>
<circle cx="303.76" cy="116.84" r="1.1" fill="#c0c0c0" opacity="0.35"/>
<circle cx="328.61" cy="122.22" r="1.1" fill="#c0c0c0" opacity="0.35"/>
<circle cx="296.57" cy="129.90" r="1.1" fill="#c0c0c0" opacity="0.35"/>
<circle cx="290.62" cy="124.24" r="1.1" fill="#c0c0c0" opacity="0.35"/>
<circle cx="338.83" cy="99.10" r="1.1" fill="#c0c0c0" opacity="0.35"/>
<circle cx="290.74" cy="91.62" r="1.1" fill="#c0c0c0" opacity="0.35"/>
<circle cx="338.62" cy="65.91" r="1.1" fill="#c0c0c0" opacity="0.35"/>
<circle cx="279.97" cy="89.37" r="1.1" fill="#e2e2e2" opacity="0.35"/>
<circle cx="334.32" cy="121.61" r="1.1" fill="#e2e2e2" opacity="0.35"/>
<circle cx="337.49" cy="83.28" r="1.1" fill="#c0c0c0" opacity="0.35"/>
<circle cx="300.99" cy="87.52" r="1.1" fill="#c0c0c0" opacity="0.35"/>
<circle cx="294.47" cy="85.39" r="1.1" fill="#e2e2e2" opacity="0.35"/>
<circle cx="289.69" cy="85.88" r="1.1" fill="#e2e2e2" opacity="0.35"/>
<circle cx="330.25" cy="93.08" r="1.1" fill="#c0c0c0" opacity="0.35"/>
<circle cx="336.69" cy="70.34" r="1.1" fill="#c0c0c0" opacity="0.35"/>
<circle cx="303.11" cy="129.12" r="1.1" fill="#e2e2e2" opacity="0.35"/>
<circle cx="292.96" cy="122.99" r="1.1" fill="#e2e2e2" opacity="0.35"/>
<circle cx="298.38" cy="77.87" r="1.1" fill="#e2e2e2" opacity="0.35"/>
<circle cx="323.30" cy="82.07" r="1.1" fill="#c0c0c0" opacity="0.35"/>
<circle cx="336.49" cy="112.23" r="1.1" fill="#e2e2e2" opacity="0.35"/>
<circle cx="307.36" cy="142.89" r="1.1" fill="#e2e2e2" opacity="0.35"/>
<circle cx="304.38" cy="98.88" r="1.1" fill="#e2e2e2" opacity="0.35"/>
<circle cx="288.07" cy="128.24" r="1.1" fill="#c0c0c0" opacity="0.35"/>
<circle cx="330.30" cy="125.42" r="1.1" fill="#c0c0c0" opacity="0.35"/>
<circle cx="297.63" cy="82.36" r="1.1" fill="#c0c0c0" opacity="0.35"/>
<circle cx="327.63" cy="59.51" r="1.1" fill="#c0c0c0" opacity="0.35"/>
<circle cx="325.69" cy="75.49" r="1.1" fill="#c0c0c0" opacity="0.35"/>
<circle cx="282.36" cy="99.36" r="1.1" fill="#c0c0c0" opacity="0.35"/>
<circle cx="303.51" cy="110.93" r="1.1" fill="#c0c0c0" opacity="0.35"/>
<circle cx="325.37" cy="132.46" r="1.1" fill="#c0c0c0" opacity="0.35"/>
<circle cx="295.39" cy="105.85" r="1.1" fill="#c0c0c0" opacity="0.35"/>
<circle cx="324.71" cy="70.92" r="1.1" fill="#c0c0c0" opacity="0.35"/>
<circle cx="334.36" cy="106.94" r="1.1" fill="#c0c0c0" opacity="0.35"/>
<circle cx="329.36" cy="114.07" r="1.1" fill="#e2e2e2" opacity="0.35"/>
<circle cx="282.75" cy="97.10" r="1.1" fill="#e2e2e2" opacity="0.35"/>
<circle cx="283.87" cy="70.01" r="1.1" fill="#e2e2e2" opacity="0.35"/>
<circle cx="314.49" cy="140.37" r="1.1" fill="#c0c0c0" opacity="0.35"/>
<circle cx="333.16" cy="94.67" r="1.1" fill="#c0c0c0" opacity="0.35"/>
<circle cx="282.98" cy="108.63" r="1.1" fill="#c0c0c0" opacity="0.35"/>
<circle cx="290.36" cy="87.03" r="1.1" fill="#c0c0c0" opacity="0.35"/>
<circle cx="289.46" cy="76.22" r="1.1" fill="#c0c0c0" opacity="0.35"/>
<circle cx="319.01" cy="71.33" r="1.1" fill="#c0c0c0" opacity="0.35"/>
<circle cx="297.60" cy="116.44" r="1.1" fill="#c0c0c0" opacity="0.35"/>
<circle cx="296.60" cy="71.32" r="1.1" fill="#e2e2e2" opacity="0.35"/>
<circle cx="282.69" cy="89.55" r="1.1" fill="#c0c0c0" opacity="0.35"/>
<circle cx="286.80" cy="118.06" r="1.1" fill="#c0c0c0" opacity="0.35"/>
<circle cx="294.70" cy="81.22" r="1.1" fill="#e2e2e2" opacity="0.35"/>
<circle cx="296.62" cy="105.82" r="1.1" fill="#c0c0c0" opacity="0.35"/>
<circle cx="303.49" cy="134.10" r="1.1" fill="#e2e2e2" opacity="0.35"/>
<circle cx="324.05" cy="71.35" r="1.1" fill="#c0c0c0" opacity="0.35"/>
<circle cx="335.51" cy="92.26" r="1.1" fill="#e2e2e2" opacity="0.35"/>
<circle cx="302.81" cy="135.87" r="1.1" fill="#c0c0c0" opacity="0.35"/>
<circle cx="317.06" cy="87.23" r="1.1" fill="#c0c0c0" opacity="0.35"/>
<circle cx="285.63" cy="78.91" r="1.1" fill="#c0c0c0" opacity="0.35"/>
<circle cx="337.08" cy="62.34" r="1.1" fill="#c0c0c0" opacity="0.35"/>
<circle cx="337.13" cy="88.85" r="1.1" fill="#e2e2e2" opacity="0.35"/>
<circle cx="316.94" cy="130.33" r="1.1" fill="#c0c0c0" opacity="0.35"/>
<circle cx="327.86" cy="73.10" r="1.1" fill="#c0c0c0" opacity="0.35"/>
<circle cx="288.08" cy="72.72" r="1.1" fill="#c0c0c0" opacity="0.35"/>
<circle cx="284.12" cy="75.47" r="1.1" fill="#c0c0c0" opacity="0.35"/>
<circle cx="313.11" cy="123.96" r="1.1" fill="#c0c0c0" opacity="0.35"/>
<circle cx="331.32" cy="63.18" r="1.1" fill="#c0c0c0" opacity="0.35"/>
<circle cx="296.21" cy="91.91" r="1.1" fill="#c0c0c0" opacity="0.35"/>
<circle cx="304.10" cy="114.59" r="1.1" fill="#c0c0c0" opacity="0.35"/>
<circle cx="316.85" cy="98.50" r="1.1" fill="#c0c0c0" opacity="0.35"/>
<circle cx="326.40" cy="126.10" r="1.1" fill="#c0c0c0" opacity="0.35"/>
<circle cx="287.85" cy="96.96" r="1.1" fill="#c0c0c0" opacity="0.35"/>
<circle cx="284.48" cy="92.91" r="1.1" fill="#c0c0c0" opacity="0.35"/>
<circle cx="281.43" cy="121.68" r="1.1" fill="#e2e2e2" opacity="0.35"/>
<circle cx="338.76" cy="64.94" r="1.1" fill="#e2e2e2" opacity="0.35"/>
<circle cx="329.79" cy="70.40" r="1.1" fill="#e2e2e2" opacity="0.35"/>
<circle cx="308.46" cy="142.88" r="1.1" fill="#e2e2e2" opacity="0.35"/>
<circle cx="286.90" cy="126.90" r="1.1" fill="#e2e2e2" opacity="0.35"/>
<circle cx="280.32" cy="85.34" r="1.1" fill="#e2e2e2" opacity="0.35"/>
<circle cx="294.15" cy="129.48" r="1.1" fill="#c0c0c0" opacity="0.35"/>
<circle cx="309.15" cy="139.39" r="1.1" fill="#c0c0c0" opacity="0.35"/>
<circle cx="293.35" cy="100.07" r="1.1" fill="#c0c0c0" opacity="0.35"/>
<circle cx="320.86" cy="137.06" r="1.1" fill="#c0c0c0" opacity="0.35"/>
<circle cx="327.80" cy="62.93" r="1.1" fill="#c0c0c0" opacity="0.35"/>
<circle cx="318.00" cy="86.18" r="1.1" fill="#e2e2e2" opacity="0.35"/>
<circle cx="334.25" cy="61.94" r="1.1" fill="#e2e2e2" opacity="0.35"/>
<circle cx="317.57" cy="89.45" r="1.1" fill="#e2e2e2" opacity="0.35"/>
<circle cx="326.47" cy="94.02" r="1.1" fill="#c0c0c0" opacity="0.35"/>
<circle cx="330.11" cy="76.10" r="1.1" fill="#c0c0c0" opacity="0.35"/>
<circle cx="319.80" cy="81.70" r="1.1" fill="#c0c0c0" opacity="0.35"/>
<circle cx="316.66" cy="93.06" r="1.1" fill="#c0c0c0" opacity="0.35"/>
<circle cx="335.11" cy="64.54" r="1.1" fill="#c0c0c0" opacity="0.35"/>
<circle cx="283.02" cy="85.93" r="1.1" fill="#c0c0c0" opacity="0.35"/>
<circle cx="314.52" cy="107.96" r="1.1" fill="#c0c0c0" opacity="0.35"/>
<circle cx="317.18" cy="97.12" r="1.1" fill="#c0c0c0" opacity="0.35"/>
<circle cx="337.82" cy="75.14" r="1.1" fill="#c0c0c0" opacity="0.35"/>
<circle cx="282.32" cy="112.63" r="1.1" fill="#e2e2e2" opacity="0.35"/>
<circle cx="327.62" cy="90.19" r="1.1" fill="#c0c0c0" opacity="0.35"/>
<circle cx="318.61" cy="94.16" r="1.1" fill="#e2e2e2" opacity="0.35"/>
<circle cx="324.41" cy="75.61" r="1.1" fill="#e2e2e2" opacity="0.35"/>
<circle cx="338.10" cy="65.52" r="1.1" fill="#c0c0c0" opacity="0.35"/>
<circle cx="316.13" cy="100.16" r="1.1" fill="#c0c0c0" opacity="0.35"/>
<circle cx="329.68" cy="68.59" r="1.1" fill="#c0c0c0" opacity="0.35"/>
<circle cx="334.70" cy="126.38" r="1.1" fill="#c0c0c0" opacity="0.35"/>
<circle cx="325.18" cy="96.20" r="1.1" fill="#c0c0c0" opacity="0.35"/>
<circle cx="282.95" cy="74.07" r="1.1" fill="#c0c0c0" opacity="0.35"/>
<circle cx="298.14" cy="123.22" r="1.1" fill="#c0c0c0" opacity="0.35"/>
<circle cx="331.79" cy="119.61" r="1.1" fill="#c0c0c0" opacity="0.35"/>
<circle cx="328.04" cy="101.71" r="1.1" fill="#c0c0c0" opacity="0.35"/>
<circle cx="291.58" cy="122.67" r="1.1" fill="#e2e2e2" opacity="0.35"/>
<circle cx="325.25" cy="83.05" r="1.1" fill="#e2e2e2" opacity="0.35"/>
<circle cx="297.68" cy="74.72" r="1.1" fill="#e2e2e2" opacity="0.35"/>
<circle cx="317.63" cy="117.82" r="1.1" fill="#c0c0c0" opacity="0.35"/>
<circle cx="331.42" cy="118.27" r="1.1" fill="#e2e2e2" opacity="0.35"/>
<circle cx="304.86" cy="120.84" r="1.1" fill="#c0c0c0" opacity="0.35"/>
<circle cx="296.31" cy="72.14" r="1.1" fill="#c0c0c0" opacity="0.35"/>
<circle cx="321.71" cy="112.22" r="1.1" fill="#c0c0c0" opacity="0.35"/>
<circle cx="329.96" cy="129.86" r="1.1" fill="#e2e2e2" opacity="0.35"/>
<circle cx="283.07" cy="71.54" r="1.1" fill="#c0c0c0" opacity="0.35"/>
<circle cx="329.59" cy="112.25" r="1.1" fill="#e2e2e2" opacity="0.35"/>
<circle cx="317.68" cy="79.30" r="1.1" fill="#c0c0c0" opacity="0.35"/>
<circle cx="282.46" cy="123.95" r="1.1" fill="#c0c0c0" opacity="0.35"/>
<circle cx="297.06" cy="92.26" r="1.1" fill="#c0c0c0" opacity="0.35"/>
<circle cx="292.94" cy="78.85" r="1.1" fill="#c0c0c0" opacity="0.35"/>
<circle cx="300.29" cy="82.48" r="1.1" fill="#e2e2e2" opacity="0.35"/>
<circle cx="303.25" cy="93.46" r="1.1" fill="#e2e2e2" opacity="0.35"/>
<circle cx="298.89" cy="118.94" r="1.1" fill="#c0c0c0" opacity="0.35"/>
<circle cx="290.29" cy="133.91" r="1.1" fill="#c0c0c0" opacity="0.35"/>
<circle cx="330.11" cy="68.19" r="1.1" fill="#c0c0c0" opacity="0.35"/>
<circle cx="289.33" cy="124.41" r="1.1" fill="#e2e2e2" opacity="0.35"/>
<circle cx="288.18" cy="98.99" r="1.1" fill="#c0c0c0" opacity="0.35"/>
<circle cx="330.90" cy="76.75" r="1.1" fill="#e2e2e2" opacity="0.35"/>
<circle cx="294.73" cy="72.40" r="1.1" fill="#c0c0c0" opacity="0.35"/>
<circle cx="328.00" cy="118.23" r="1.1" fill="#e2e2e2" opacity="0.35"/>
<circle cx="317.44" cy="85.78" r="1.1" fill="#c0c0c0" opacity="0.35"/>
<circle cx="302.04" cy="136.59" r="1.1" fill="#c0c0c0" opacity="0.35"/>
<circle cx="289.60" cy="77.00" r="1.1" fill="#e2e2e2" opacity="0.35"/>
<circle cx="334.34" cy="74.19" r="1.1" fill="#c0c0c0" opacity="0.35"/>
<circle cx="325.70" cy="113.40" r="1.1" fill="#c0c0c0" opacity="0.35"/>
<circle cx="331.65" cy="114.90" r="1.1" fill="#c0c0c0" opacity="0.35"/>
<circle cx="287.19" cy="93.69" r="1.1" fill="#e2e2e2" opacity="0.35"/>
<circle cx="306.49" cy="136.09" r="1.1" fill="#c0c0c0" opacity="0.35"/>
<circle cx="288.64" cy="80.64" r="1.1" fill="#c0c0c0" opacity="0.35"/>
<circle cx="331.68" cy="66.69" r="1.1" fill="#c0c0c0" opacity="0.35"/>
<circle cx="292.34" cy="83.02" r="1.1" fill="#c0c0c0" opacity="0.35"/>
<circle cx="286.62" cy="83.17" r="1.1" fill="#c0c0c0" opacity="0.35"/>
<circle cx="282.71" cy="88.50" r="1.1" fill="#e2e2e2" opacity="0.35"/>
<circle cx="328.46" cy="121.66" r="1.1" fill="#c0c0c0" opacity="0.35"/>
<circle cx="288.95" cy="112.61" r="1.1" fill="#c0c0c0" opacity="0.35"/>
<circle cx="289.63" cy="88.89" r="1.1" fill="#c0c0c0" opacity="0.35"/>
<circle cx="302.34" cy="127.15" r="1.1" fill="#c0c0c0" opacity="0.35"/>
<circle cx="315.84" cy="90.45" r="1.1" fill="#c0c0c0" opacity="0.35"/>
<circle cx="335.93" cy="92.85" r="1.1" fill="#c0c0c0" opacity="0.35"/>
<circle cx="325.44" cy="92.01" r="1.1" fill="#c0c0c0" opacity="0.35"/>
<circle cx="323.67" cy="135.61" r="1.1" fill="#e2e2e2" opacity="0.35"/>
<circle cx="322.21" cy="132.98" r="1.1" fill="#c0c0c0" opacity="0.35"/>
<circle cx="318.34" cy="95.12" r="1.1" fill="#c0c0c0" opacity="0.35"/>
<circle cx="303.69" cy="126.33" r="1.1" fill="#c0c0c0" opacity="0.35"/>
<circle cx="303.96" cy="95.24" r="1.1" fill="#c0c0c0" opacity="0.35"/>
<circle cx="303.02" cy="116.15" r="1.1" fill="#e2e2e2" opacity="0.35"/>
<circle cx="288.08" cy="114.18" r="1.1" fill="#e2e2e2" opacity="0.35"/>
<circle cx="301.65" cy="98.53" r="1.1" fill="#e2e2e2" opacity="0.35"/>
<circle cx="286.62" cy="126.27" r="1.1" fill="#e2e2e2" opacity="0.35"/>
<circle cx="313.92" cy="103.40" r="1.1" fill="#c0c0c0" opacity="0.35"/>
<circle cx="330.71" cy="101.56" r="1.1" fill="#c0c0c0" opacity="0.35"/>
<circle cx="338.57" cy="71.96" r="1.1" fill="#c0c0c0" opacity="0.35"/>
<circle cx="301.90" cy="124.46" r="1.1" fill="#c0c0c0" opacity="0.35"/>
<circle cx="279.74" cy="78.06" r="1.1" fill="#c0c0c0" opacity="0.35"/>
<circle cx="303.76" cy="118.33" r="1.1" fill="#c0c0c0" opacity="0.35"/>
<circle cx="293.50" cy="73.32" r="1.1" fill="#c0c0c0" opacity="0.35"/>
<circle cx="338.04" cy="102.07" r="1.1" fill="#c0c0c0" opacity="0.35"/>
<circle cx="328.90" cy="89.24" r="1.1" fill="#c0c0c0" opacity="0.35"/>
<circle cx="284.53" cy="125.78" r="1.1" fill="#e2e2e2" opacity="0.35"/>
<circle cx="317.86" cy="96.57" r="1.1" fill="#c0c0c0" opacity="0.35"/>
<circle cx="299.31" cy="112.69" r="1.1" fill="#e2e2e2" opacity="0.35"/>
<circle cx="329.87" cy="96.47" r="1.1" fill="#c0c0c0" opacity="0.35"/>
<circle cx="331.03" cy="85.70" r="1.1" fill="#e2e2e2" opacity="0.35"/>
<circle cx="293.65" cy="87.73" r="1.1" fill="#c0c0c0" opacity="0.35"/>
<circle cx="294.56" cy="75.27" r="1.1" fill="#c0c0c0" opacity="0.35"/>
<circle cx="318.06" cy="114.63" r="1.1" fill="#c0c0c0" opacity="0.35"/>
<circle cx="335.78" cy="126.48" r="1.1" fill="#c0c0c0" opacity="0.35"/>
<circle cx="330.87" cy="112.15" r="1.1" fill="#c0c0c0" opacity="0.35"/>
<circle cx="319.29" cy="75.75" r="1.1" fill="#c0c0c0" opacity="0.35"/>
<circle cx="285.42" cy="74.20" r="1.1" fill="#e2e2e2" opacity="0.35"/>
<circle cx="316.15" cy="126.22" r="1.1" fill="#c0c0c0" opacity="0.35"/>
<circle cx="335.00" cy="126.87" r="1.1" fill="#e2e2e2" opacity="0.35"/>
<circle cx="289.03" cy="117.82" r="1.1" fill="#c0c0c0" opacity="0.35"/>
<circle cx="324.97" cy="93.67" r="1.1" fill="#e2e2e2" opacity="0.35"/>
<circle cx="311.61" cy="133.97" r="1.1" fill="#c0c0c0" opacity="0.35"/>
<circle cx="331.49" cy="96.46" r="1.1" fill="#c0c0c0" opacity="0.35"/>
<circle cx="319.91" cy="131.85" r="1.1" fill="#c0c0c0" opacity="0.35"/>
<circle cx="280.98" cy="112.52" r="1.1" fill="#c0c0c0" opacity="0.35"/>
<circle cx="323.40" cy="111.40" r="1.1" fill="#c0c0c0" opacity="0.35"/>
<circle cx="332.87" cy="86.79" r="1.1" fill="#c0c0c0" opacity="0.35"/>
<circle cx="289.91" cy="93.34" r="1.1" fill="#c0c0c0" opacity="0.35"/>
<circle cx="312.57" cy="130.54" r="1.1" fill="#c0c0c0" opacity="0.35"/>
<circle cx="330.63" cy="90.35" r="1.1" fill="#c0c0c0" opacity="0.35"/>
<circle cx="293.93" cy="100.11" r="1.1" fill="#e2e2e2" opacity="0.35"/>
<circle cx="319.20" cy="127.24" r="1.1" fill="#c0c0c0" opacity="0.35"/>
<circle cx="296.93" cy="80.43" r="1.1" fill="#c0c0c0" opacity="0.35"/>
<circle cx="317.90" cy="126.50" r="1.1" fill="#c0c0c0" opacity="0.35"/>
<circle cx="323.70" cy="136.13" r="1.1" fill="#c0c0c0" opacity="0.35"/>
<circle cx="279.28" cy="80.54" r="1.1" fill="#c0c0c0" opacity="0.35"/>
<circle cx="316.17" cy="114.51" r="1.1" fill="#e2e2e2" opacity="0.35"/>
<circle cx="336.05" cy="110.12" r="1.1" fill="#c0c0c0" opacity="0.35"/>
<circle cx="317.37" cy="118.16" r="1.1" fill="#c0c0c0" opacity="0.35"/>
<circle cx="320.94" cy="72.19" r="1.1" fill="#c0c0c0" opacity="0.35"/>
<circle cx="306.22" cy="124.45" r="1.1" fill="#c0c0c0" opacity="0.35"/>
<circle cx="319.28" cy="87.04" r="1.1" fill="#e2e2e2" opacity="0.35"/>
<circle cx="327.91" cy="105.40" r="1.1" fill="#c0c0c0" opacity="0.35"/>
<circle cx="295.93" cy="92.07" r="1.1" fill="#c0c0c0" opacity="0.35"/>
<circle cx="304.42" cy="112.97" r="1.1" fill="#e2e2e2" opacity="0.35"/>
<circle cx="279.60" cy="105.91" r="1.1" fill="#c0c0c0" opacity="0.35"/>
<circle cx="313.97" cy="139.27" r="1.1" fill="#c0c0c0" opacity="0.35"/>
<circle cx="315.07" cy="141.08" r="1.1" fill="#e2e2e2" opacity="0.35"/>
<circle cx="282.73" cy="113.23" r="1.1" fill="#c0c0c0" opacity="0.35"/>
<circle cx="323.48" cy="75.02" r="1.1" fill="#c0c0c0" opacity="0.35"/>
<circle cx="327.09" cy="119.79" r="1.1" fill="#e2e2e2" opacity="0.35"/>
<circle cx="317.49" cy="119.38" r="1.1" fill="#c0c0c0" opacity="0.35"/>
<circle cx="337.53" cy="76.13" r="1.1" fill="#e2e2e2" opacity="0.35"/>
<circle cx="329.94" cy="59.57" r="1.1" fill="#c0c0c0" opacity="0.35"/>
<circle cx="324.14" cy="67.77" r="1.1" fill="#e2e2e2" opacity="0.35"/>
<circle cx="300.26" cy="106.62" r="1.1" fill="#c0c0c0" opacity="0.35"/>
<circle cx="320.67" cy="65.77" r="1.1" fill="#e2e2e2" opacity="0.35"/>
<circle cx="299.98" cy="113.26" r="1.1" fill="#c0c0c0" opacity="0.35"/>
<circle cx="327.79" cy="105.85" r="1.1" fill="#c0c0c0" opacity="0.35"/>
<circle cx="322.42" cy="130.60" r="1.1" fill="#c0c0c0" opacity="0.35"/>
<circle cx="330.87" cy="109.11" r="1.1" fill="#c0c0c0" opacity="0.35"/>
<circle cx="304.29" cy="136.37" r="1.1" fill="#c0c0c0" opacity="0.35"/>
<circle cx="321.20" cy="109.17" r="1.1" fill="#e2e2e2" opacity="0.35"/>
<circle cx="329.29" cy="78.91" r="1.1" fill="#c0c0c0" opacity="0.35"/>
<circle cx="293.36" cy="92.14" r="1.1" fill="#c0c0c0" opacity="0.35"/>
<circle cx="332.18" cy="128.67" r="1.1" fill="#c0c0c0" opacity="0.35"/>
<circle cx="336.31" cy="84.95" r="1.1" fill="#c0c0c0" opacity="0.35"/>
<circle cx="312.54" cy="127.75" r="1.1" fill="#c0c0c0" opacity="0.35"/>
<circle cx="291.45" cy="109.66" r="1.1" fill="#c0c0c0" opacity="0.35"/>
<circle cx="292.81" cy="123.36" r="1.1" fill="#e2e2e2" opacity="0.35"/>
<circle cx="329.23" cy="125.36" r="1.1" fill="#c0c0c0" opacity="0.35"/>
<circle cx="314.25" cy="137.21" r="1.1" fill="#e2e2e2" opacity="0.35"/>
<circle cx="288.69" cy="69.17" r="1.1" fill="#c0c0c0" opacity="0.35"/>
<circle cx="299.95" cy="105.62" r="1.1" fill="#c0c0c0" opacity="0.35"/>
<circle cx="317.76" cy="126.80" r="1.1" fill="#c0c0c0" opacity="0.35"/>
<circle cx="333.16" cy="98.20" r="1.1" fill="#c0c0c0" opacity="0.35"/>
<circle cx="293.27" cy="126.02" r="1.1" fill="#c0c0c0" opacity="0.35"/>
<circle cx="289.27" cy="69.17" r="1.1" fill="#c0c0c0" opacity="0.35"/>
<circle cx="279.37" cy="104.95" r="1.1" fill="#e2e2e2" opacity="0.35"/>
<circle cx="306.25" cy="141.98" r="1.1" fill="#e2e2e2" opacity="0.35"/>
<circle cx="280.24" cy="108.82" r="1.1" fill="#c0c0c0" opacity="0.35"/>
<circle cx="292.97" cy="105.63" r="1.1" fill="#c0c0c0" opacity="0.35"/>
<circle cx="339.12" cy="115.62" r="1.1" fill="#c0c0c0" opacity="0.35"/>
<circle cx="292.89" cy="85.44" r="1.1" fill="#e2e2e2" opacity="0.35"/>
<circle cx="322.83" cy="113.44" r="1.1" fill="#e2e2e2" opacity="0.35"/>
<circle cx="320.67" cy="80.39" r="1.1" fill="#c0c0c0" opacity="0.35"/>
<circle cx="326.02" cy="62.01" r="1.1" fill="#c0c0c0" opacity="0.35"/>
<circle cx="323.34" cy="70.53" r="1.1" fill="#c0c0c0" opacity="0.35"/>
<circle cx="337.23" cy="72.95" r="1.1" fill="#e2e2e2" opacity="0.35"/>
<circle cx="285.22" cy="94.49" r="1.1" fill="#c0c0c0" opacity="0.35"/>
<circle cx="317.47" cy="94.97" r="1.1" fill="#c0c0c0" opacity="0.35"/>
<circle cx="330.32" cy="97.37" r="1.1" fill="#c0c0c0" opacity="0.35"/>
<circle cx="285.42" cy="73.06" r="1.1" fill="#c0c0c0" opacity="0.35"/>
<circle cx="323.11" cy="104.57" r="1.1" fill="#c0c0c0" opacity="0.35"/>
<circle cx="333.47" cy="77.31" r="1.1" fill="#c0c0c0" opacity="0.35"/>
<circle cx="286.28" cy="77.76" r="1.1" fill="#e2e2e2" opacity="0.35"/>
<circle cx="335.61" cy="62.85" r="1.1" fill="#e2e2e2" opacity="0.35"/>
<circle cx="320.11" cy="72.06" r="1.1" fill="#c0c0c0" opacity="0.35"/>
<circle cx="294.89" cy="76.49" r="1.1" fill="#c0c0c0" opacity="0.35"/>
<circle cx="282.44" cy="79.50" r="1.1" fill="#e2e2e2" opacity="0.35"/>
<circle cx="304.73" cy="138.64" r="1.1" fill="#c0c0c0" opacity="0.35"/>
<circle cx="287.89" cy="125.19" r="1.1" fill="#c0c0c0" opacity="0.35"/>
<circle cx="281.77" cy="109.81" r="1.1" fill="#c0c0c0" opacity="0.35"/>
<circle cx="294.08" cy="71.57" r="1.1" fill="#c0c0c0" opacity="0.35"/>
<circle cx="322.71" cy="129.10" r="1.1" fill="#c0c0c0" opacity="0.35"/>
<circle cx="324.36" cy="90.77" r="1.1" fill="#c0c0c0" opacity="0.35"/>
<circle cx="298.12" cy="131.98" r="1.1" fill="#e2e2e2" opacity="0.35"/>
<circle cx="336.07" cy="97.28" r="1.1" fill="#e2e2e2" opacity="0.35"/>
<circle cx="293.57" cy="69.67" r="1.1" fill="#e2e2e2" opacity="0.35"/>
<circle cx="300.50" cy="108.52" r="1.1" fill="#c0c0c0" opacity="0.35"/>
<circle cx="323.16" cy="129.57" r="1.1" fill="#e2e2e2" opacity="0.35"/>
<circle cx="297.18" cy="119.56" r="1.1" fill="#c0c0c0" opacity="0.35"/>
<circle cx="290.76" cy="69.33" r="1.1" fill="#c0c0c0" opacity="0.35"/>
<circle cx="292.53" cy="129.63" r="1.1" fill="#c0c0c0" opacity="0.35"/>
<circle cx="282.37" cy="118.40" r="1.1" fill="#c0c0c0" opacity="0.35"/>
<circle cx="314.05" cy="101.68" r="1.1" fill="#c0c0c0" opacity="0.35"/>
<circle cx="284.12" cy="98.89" r="1.1" fill="#c0c0c0" opacity="0.35"/>
<circle cx="315.06" cy="133.80" r="1.1" fill="#c0c0c0" opacity="0.35"/>
<circle cx="313.81" cy="122.92" r="1.1" fill="#c0c0c0" opacity="0.35"/>
<circle cx="301.66" cy="91.95" r="1.1" fill="#e2e2e2" opacity="0.35"/>
<circle cx="298.34" cy="74.84" r="1.1" fill="#c0c0c0" opacity="0.35"/>
<circle cx="329.79" cy="132.52" r="1.1" fill="#c0c0c0" opacity="0.35"/>
<circle cx="310.15" cy="143.00" r="1.1" fill="#e2e2e2" opacity="0.35"/>
<circle cx="292.45" cy="92.10" r="1.1" fill="#c0c0c0" opacity="0.35"/>
<circle cx="300.05" cy="102.43" r="1.1" fill="#c0c0c0" opacity="0.35"/>
<circle cx="304.58" cy="99.95" r="1.1" fill="#c0c0c0" opacity="0.35"/>
<circle cx="317.79" cy="128.88" r="1.1" fill="#e2e2e2" opacity="0.35"/>
<circle cx="318.34" cy="77.25" r="1.1" fill="#c0c0c0" opacity="0.35"/>
<circle cx="294.05" cy="103.51" r="1.1" fill="#e2e2e2" opacity="0.35"/>
<circle cx="338.76" cy="79.31" r="1.1" fill="#c0c0c0" opacity="0.35"/>
<circle cx="284.67" cy="79.89" r="1.1" fill="#c0c0c0" opacity="0.35"/>
<circle cx="295.03" cy="75.12" r="1.1" fill="#c0c0c0" opacity="0.35"/>
<circle cx="312.06" cy="131.78" r="1.1" fill="#c0c0c0" opacity="0.35"/>
<circle cx="313.63" cy="113.78" r="1.1" fill="#c0c0c0" opacity="0.35"/>
<circle cx="322.88" cy="95.78" r="1.1" fill="#c0c0c0" opacity="0.35"/>
<circle cx="316.44" cy="96.55" r="1.1" fill="#c0c0c0" opacity="0.35"/>
<circle cx="291.99" cy="73.05" r="1.1" fill="#c0c0c0" opacity="0.35"/>
<circle cx="301.29" cy="107.64" r="1.1" fill="#c0c0c0" opacity="0.35"/>
<circle cx="299.28" cy="133.88" r="1.1" fill="#c0c0c0" opacity="0.35"/>
<circle cx="295.50" cy="125.35" r="1.1" fill="#c0c0c0" opacity="0.35"/>
<circle cx="301.60" cy="93.79" r="1.1" fill="#c0c0c0" opacity="0.35"/>
<circle cx="283.21" cy="73.39" r="1.1" fill="#e2e2e2" opacity="0.35"/>
<circle cx="324.75" cy="66.68" r="1.1" fill="#c0c0c0" opacity="0.35"/>
<circle cx="299.26" cy="116.16" r="1.1" fill="#c0c0c0" opacity="0.35"/>
<circle cx="332.10" cy="130.01" r="1.1" fill="#c0c0c0" opacity="0.35"/>
<circle cx="324.76" cy="122.61" r="1.1" fill="#e2e2e2" opacity="0.35"/>
<circle cx="307.37" cy="126.57" r="1.1" fill="#c0c0c0" opacity="0.35"/>
<circle cx="336.37" cy="64.09" r="1.1" fill="#e2e2e2" opacity="0.35"/>
<circle cx="314.67" cy="99.30" r="1.1" fill="#e2e2e2" opacity="0.35"/>
<circle cx="323.72" cy="79.83" r="1.1" fill="#c0c0c0" opacity="0.35"/>
<circle cx="297.25" cy="126.77" r="1.1" fill="#e2e2e2" opacity="0.35"/>
<circle cx="288.16" cy="80.88" r="1.1" fill="#c0c0c0" opacity="0.35"/>
<circle cx="313.98" cy="107.25" r="1.1" fill="#c0c0c0" opacity="0.35"/>
<circle cx="336.73" cy="82.77" r="1.1" fill="#e2e2e2" opacity="0.35"/>
<circle cx="289.48" cy="92.51" r="1.1" fill="#e2e2e2" opacity="0.35"/>
<circle cx="336.74" cy="125.48" r="1.1" fill="#c0c0c0" opacity="0.35"/>
<circle cx="301.71" cy="85.98" r="1.1" fill="#c0c0c0" opacity="0.35"/>
<circle cx="320.65" cy="101.90" r="1.1" fill="#c0c0c0" opacity="0.35"/>
<circle cx="300.71" cy="90.08" r="1.1" fill="#c0c0c0" opacity="0.35"/>
<circle cx="313.89" cy="135.58" r="1.1" fill="#e2e2e2" opacity="0.35"/>
<circle cx="298.66" cy="102.36" r="1.1" fill="#e2e2e2" opacity="0.35"/>
<circle cx="287.27" cy="82.22" r="1.1" fill="#e2e2e2" opacity="0.35"/>
<circle cx="330.52" cy="100.70" r="1.1" fill="#c0c0c0" opacity="0.35"/>
<circle cx="335.04" cy="117.54" r="1.1" fill="#e2e2e2" opacity="0.35"/>
<circle cx="295.14" cy="100.60" r="1.1" fill="#c0c0c0" opacity="0.35"/>
<circle cx="288.42" cy="69.33" r="1.1" fill="#c0c0c0" opacity="0.35"/>
<circle cx="327.98" cy="81.14" r="1.1" fill="#c0c0c0" opacity="0.35"/>
<circle cx="331.58" cy="107.69" r="1.1" fill="#c0c0c0" opacity="0.35"/>
<circle cx="288.98" cy="99.30" r="1.1" fill="#c0c0c0" opacity="0.35"/>
<circle cx="293.56" cy="113.45" r="1.1" fill="#c0c0c0" opacity="0.35"/>
<circle cx="286.35" cy="124.15" r="1.1" fill="#c0c0c0" opacity="0.35"/>
<circle cx="316.46" cy="128.63" r="1.1" fill="#c0c0c0" opacity="0.35"/>
<circle cx="297.31" cy="119.97" r="1.1" fill="#c0c0c0" opacity="0.35"/>
<circle cx="287.18" cy="77.33" r="1.1" fill="#c0c0c0" opacity="0.35"/>
<circle cx="335.65" cy="107.31" r="1.1" fill="#c0c0c0" opacity="0.35"/>
<circle cx="305.02" cy="110.92" r="1.1" fill="#c0c0c0" opacity="0.35"/>
<circle cx="332.41" cy="81.91" r="1.1" fill="#e2e2e2" opacity="0.35"/>
<circle cx="329.85" cy="80.85" r="1.1" fill="#c0c0c0" opacity="0.35"/>
<circle cx="339.36" cy="99.08" r="1.1" fill="#e2e2e2" opacity="0.35"/>
<circle cx="292.03" cy="89.03" r="1.1" fill="#c0c0c0" opacity="0.35"/>
<circle cx="290.61" cy="81.37" r="1.1" fill="#e2e2e2" opacity="0.35"/>
<circle cx="292.06" cy="68.48" r="1.1" fill="#c0c0c0" opacity="0.35"/>
<circle cx="295.19" cy="105.35" r="1.1" fill="#c0c0c0" opacity="0.35"/>
<circle cx="299.18" cy="75.27" r="1.1" fill="#c0c0c0" opacity="0.35"/>
<circle cx="294.72" cy="74.53" r="1.1" fill="#c0c0c0" opacity="0.35"/>
<circle cx="319.84" cy="84.44" r="1.1" fill="#c0c0c0" opacity="0.35"/>
<circle cx="293.80" cy="131.33" r="1.1" fill="#c0c0c0" opacity="0.35"/>
<circle cx="305.26" cy="131.45" r="1.1" fill="#e2e2e2" opacity="0.35"/>
<circle cx="286.51" cy="85.53" r="1.1" fill="#c0c0c0" opacity="0.35"/>
<circle cx="322.63" cy="76.77" r="1.1" fill="#e2e2e2" opacity="0.35"/>
<circle cx="292.25" cy="109.78" r="1.1" fill="#c0c0c0" opacity="0.35"/>
<circle cx="333.58" cy="63.66" r="1.1" fill="#c0c0c0" opacity="0.35"/>
<circle cx="326.94" cy="88.56" r="1.1" fill="#c0c0c0" opacity="0.35"/>
<circle cx="297.19" cy="114.96" r="1.1" fill="#c0c0c0" opacity="0.35"/>
<circle cx="280.35" cy="81.57" r="1.1" fill="#c0c0c0" opacity="0.35"/>
<circle cx="284.32" cy="120.09" r="1.1" fill="#c0c0c0" opacity="0.35"/>
<circle cx="302.62" cy="138.35" r="1.1" fill="#e2e2e2" opacity="0.35"/>
<circle cx="284.72" cy="78.27" r="1.1" fill="#c0c0c0" opacity="0.35"/>
<circle cx="320.86" cy="115.04" r="1.1" fill="#c0c0c0" opacity="0.35"/>
<circle cx="303.23" cy="114.61" r="1.1" fill="#c0c0c0" opacity="0.35"/>
<circle cx="292.40" cy="132.44" r="1.1" fill="#c0c0c0" opacity="0.35"/>
<circle cx="324.45" cy="119.70" r="1.1" fill="#c0c0c0" opacity="0.35"/>
<circle cx="289.07" cy="80.79" r="1.1" fill="#c0c0c0" opacity="0.35"/>
<circle cx="331.40" cy="106.17" r="1.1" fill="#c0c0c0" opacity="0.35"/>
<circle cx="292.81" cy="93.32" r="1.1" fill="#c0c0c0" opacity="0.35"/>
<circle cx="331.06" cy="125.76" r="1.1" fill="#c0c0c0" opacity="0.35"/>
<circle cx="328.23" cy="71.96" r="1.1" fill="#e2e2e2" opacity="0.35"/>
<circle cx="325.47" cy="60.18" r="1.1" fill="#c0c0c0" opacity="0.35"/>
<circle cx="301.98" cy="123.02" r="1.1" fill="#e2e2e2" opacity="0.35"/>
<circle cx="281.86" cy="107.00" r="1.1" fill="#cfcfcf" opacity="0.6"/>
<circle cx="281.01" cy="99.04" r="1.1" fill="#cfcfcf" opacity="0.6"/>
<circle cx="280.08" cy="86.33" r="1.1" fill="#cfcfcf" opacity="0.6"/>
<circle cx="281.10" cy="99.47" r="1.1" fill="#cfcfcf" opacity="0.6"/>
<circle cx="279.23" cy="110.76" r="1.1" fill="#cfcfcf" opacity="0.6"/>
<circle cx="279.55" cy="88.35" r="1.1" fill="#cfcfcf" opacity="0.6"/>
<circle cx="281.02" cy="94.88" r="1.1" fill="#cfcfcf" opacity="0.6"/>
<circle cx="279.20" cy="95.79" r="1.1" fill="#cfcfcf" opacity="0.6"/>
<circle cx="280.53" cy="105.74" r="1.1" fill="#cfcfcf" opacity="0.6"/>
<circle cx="279.27" cy="91.49" r="1.1" fill="#cfcfcf" opacity="0.6"/>
<circle cx="279.45" cy="96.04" r="1.1" fill="#cfcfcf" opacity="0.6"/>
<circle cx="280.18" cy="108.55" r="1.1" fill="#cfcfcf" opacity="0.6"/>
<circle cx="279.45" cy="102.64" r="1.1" fill="#cfcfcf" opacity="0.6"/>
<circle cx="281.38" cy="77.83" r="1.1" fill="#cfcfcf" opacity="0.6"/>
<circle cx="281.10" cy="75.57" r="1.1" fill="#cfcfcf" opacity="0.6"/>
<circle cx="282.19" cy="71.78" r="1.1" fill="#cfcfcf" opacity="0.6"/>
<circle cx="282.16" cy="71.06" r="1.1" fill="#cfcfcf" opacity="0.6"/>
<circle cx="287.25" cy="66.00" r="1.1" fill="#cfcfcf" opacity="0.6"/>
<circle cx="284.02" cy="68.21" r="1.1" fill="#cfcfcf" opacity="0.6"/>
<circle cx="287.49" cy="63.56" r="1.1" fill="#cfcfcf" opacity="0.6"/>
<circle cx="288.91" cy="67.85" r="1.1" fill="#cfcfcf" opacity="0.6"/>
<circle cx="295.09" cy="67.42" r="1.1" fill="#cfcfcf" opacity="0.6"/>
<circle cx="295.17" cy="65.80" r="1.1" fill="#cfcfcf" opacity="0.6"/>
<circle cx="297.28" cy="70.88" r="1.1" fill="#cfcfcf" opacity="0.6"/>
<circle cx="295.17" cy="69.85" r="1.1" fill="#cfcfcf" opacity="0.6"/>
<circle cx="300.58" cy="75.07" r="1.1" fill="#cfcfcf" opacity="0.6"/>
<circle cx="297.45" cy="69.91" r="1.1" fill="#cfcfcf" opacity="0.6"/>
<circle cx="300.68" cy="80.40" r="1.1" fill="#cfcfcf" opacity="0.6"/>
<circle cx="300.31" cy="85.17" r="1.1" fill="#cfcfcf" opacity="0.6"/>
<circle cx="298.95" cy="74.15" r="1.1" fill="#cfcfcf" opacity="0.6"/>
<circle cx="298.95" cy="70.56" r="1.1" fill="#cfcfcf" opacity="0.6"/>
<circle cx="300.88" cy="76.98" r="1.1" fill="#cfcfcf" opacity="0.6"/>
<circle cx="298.33" cy="70.95" r="1.1" fill="#cfcfcf" opacity="0.6"/>
<circle cx="303.66" cy="81.61" r="1.1" fill="#cfcfcf" opacity="0.6"/>
<circle cx="301.88" cy="82.35" r="1.1" fill="#cfcfcf" opacity="0.6"/>
<circle cx="302.03" cy="88.64" r="1.1" fill="#cfcfcf" opacity="0.6"/>
<circle cx="302.52" cy="93.08" r="1.1" fill="#cfcfcf" opacity="0.6"/>
<circle cx="305.29" cy="92.83" r="1.1" fill="#cfcfcf" opacity="0.6"/>
<circle cx="302.09" cy="89.65" r="1.1" fill="#cfcfcf" opacity="0.6"/>
<circle cx="303.19" cy="94.59" r="1.1" fill="#cfcfcf" opacity="0.6"/>
<circle cx="301.61" cy="88.48" r="1.1" fill="#cfcfcf" opacity="0.6"/>
<circle cx="307.10" cy="98.19" r="1.1" fill="#cfcfcf" opacity="0.6"/>
<circle cx="306.68" cy="99.21" r="1.1" fill="#cfcfcf" opacity="0.6"/>
<circle cx="307.79" cy="114.51" r="1.1" fill="#cfcfcf" opacity="0.6"/>
<circle cx="305.24" cy="111.97" r="1.1" fill="#cfcfcf" opacity="0.6"/>
<circle cx="304.28" cy="116.42" r="1.1" fill="#cfcfcf" opacity="0.6"/>
<circle cx="303.86" cy="107.34" r="1.1" fill="#cfcfcf" opacity="0.6"/>
<circle cx="305.77" cy="102.29" r="1.1" fill="#cfcfcf" opacity="0.6"/>
<circle cx="307.18" cy="108.58" r="1.1" fill="#cfcfcf" opacity="0.6"/>
<circle cx="304.27" cy="105.67" r="1.1" fill="#cfcfcf" opacity="0.6"/>
<circle cx="304.44" cy="108.49" r="1.1" fill="#cfcfcf" opacity="0.6"/>
<circle cx="306.29" cy="104.42" r="1.1" fill="#cfcfcf" opacity="0.6"/>
<circle cx="307.63" cy="111.00" r="1.1" fill="#cfcfcf" opacity="0.6"/>
<circle cx="307.95" cy="120.94" r="1.1" fill="#cfcfcf" opacity="0.6"/>
<circle cx="304.98" cy="120.13" r="1.1" fill="#cfcfcf" opacity="0.6"/>
<circle cx="306.01" cy="119.44" r="1.1" fill="#cfcfcf" opacity="0.6"/>
<circle cx="306.62" cy="122.88" r="1.1" fill="#cfcfcf" opacity="0.6"/>
<circle cx="308.15" cy="122.52" r="1.1" fill="#cfcfcf" opacity="0.6"/>
<circle cx="305.71" cy="126.72" r="1.1" fill="#cfcfcf" opacity="0.6"/>
<circle cx="310.47" cy="128.70" r="1.1" fill="#cfcfcf" opacity="0.6"/>
<circle cx="310.80" cy="136.53" r="1.1" fill="#cfcfcf" opacity="0.6"/>
<circle cx="309.98" cy="135.20" r="1.1" fill="#cfcfcf" opacity="0.6"/>
<circle cx="308.74" cy="133.03" r="1.1" fill="#cfcfcf" opacity="0.6"/>
<circle cx="309.80" cy="135.86" r="1.1" fill="#cfcfcf" opacity="0.6"/>
<circle cx="310.12" cy="132.29" r="1.1" fill="#cfcfcf" opacity="0.6"/>
<circle cx="308.89" cy="137.55" r="1.1" fill="#cfcfcf" opacity="0.6"/>
<circle cx="311.22" cy="132.66" r="1.1" fill="#cfcfcf" opacity="0.6"/>
<circle cx="307.83" cy="128.96" r="1.1" fill="#cfcfcf" opacity="0.6"/>
<circle cx="311.57" cy="131.96" r="1.1" fill="#cfcfcf" opacity="0.6"/>
<circle cx="309.88" cy="132.58" r="1.1" fill="#cfcfcf" opacity="0.6"/>
<circle cx="313.00" cy="119.97" r="1.1" fill="#cfcfcf" opacity="0.6"/>
<circle cx="313.92" cy="119.49" r="1.1" fill="#cfcfcf" opacity="0.6"/>
<circle cx="310.30" cy="128.12" r="1.1" fill="#cfcfcf" opacity="0.6"/>
<circle cx="311.84" cy="121.81" r="1.1" fill="#cfcfcf" opacity="0.6"/>
<circle cx="311.82" cy="117.01" r="1.1" fill="#cfcfcf" opacity="0.6"/>
<circle cx="308.68" cy="127.50" r="1.1" fill="#cfcfcf" opacity="0.6"/>
<circle cx="311.89" cy="122.20" r="1.1" fill="#cfcfcf" opacity="0.6"/>
<circle cx="312.84" cy="114.33" r="1.1" fill="#cfcfcf" opacity="0.6"/>
<circle cx="312.79" cy="109.50" r="1.1" fill="#cfcfcf" opacity="0.6"/>
<circle cx="314.65" cy="112.61" r="1.1" fill="#cfcfcf" opacity="0.6"/>
<circle cx="312.39" cy="105.65" r="1.1" fill="#cfcfcf" opacity="0.6"/>
<circle cx="315.10" cy="100.97" r="1.1" fill="#cfcfcf" opacity="0.6"/>
<circle cx="310.00" cy="114.40" r="1.1" fill="#cfcfcf" opacity="0.6"/>
<circle cx="314.49" cy="103.57" r="1.1" fill="#cfcfcf" opacity="0.6"/>
<circle cx="313.15" cy="101.92" r="1.1" fill="#cfcfcf" opacity="0.6"/>
<circle cx="314.53" cy="111.02" r="1.1" fill="#cfcfcf" opacity="0.6"/>
<circle cx="314.28" cy="109.03" r="1.1" fill="#cfcfcf" opacity="0.6"/>
<circle cx="313.76" cy="99.74" r="1.1" fill="#cfcfcf" opacity="0.6"/>
<circle cx="315.91" cy="87.28" r="1.1" fill="#cfcfcf" opacity="0.6"/>
<circle cx="313.49" cy="98.74" r="1.1" fill="#cfcfcf" opacity="0.6"/>
<circle cx="314.52" cy="92.71" r="1.1" fill="#cfcfcf" opacity="0.6"/>
<circle cx="312.99" cy="99.36" r="1.1" fill="#cfcfcf" opacity="0.6"/>
<circle cx="310.36" cy="100.67" r="1.1" fill="#cfcfcf" opacity="0.6"/>
<circle cx="315.29" cy="100.90" r="1.1" fill="#cfcfcf" opacity="0.6"/>
<circle cx="314.46" cy="97.70" r="1.1" fill="#cfcfcf" opacity="0.6"/>
<circle cx="315.58" cy="81.14" r="1.1" fill="#cfcfcf" opacity="0.6"/>
<circle cx="318.76" cy="70.67" r="1.1" fill="#cfcfcf" opacity="0.6"/>
<circle cx="317.97" cy="74.41" r="1.1" fill="#cfcfcf" opacity="0.6"/>
<circle cx="316.81" cy="72.24" r="1.1" fill="#cfcfcf" opacity="0.6"/>
<circle cx="316.77" cy="82.46" r="1.1" fill="#cfcfcf" opacity="0.6"/>
<circle cx="320.07" cy="71.30" r="1.1" fill="#cfcfcf" opacity="0.6"/>
<circle cx="317.29" cy="79.01" r="1.1" fill="#cfcfcf" opacity="0.6"/>
<circle cx="316.72" cy="76.95" r="1.1" fill="#cfcfcf" opacity="0.6"/>
<circle cx="317.22" cy="77.44" r="1.1" fill="#cfcfcf" opacity="0.6"/>
<circle cx="315.45" cy="84.08" r="1.1" fill="#cfcfcf" opacity="0.6"/>
<circle cx="318.57" cy="67.83" r="1.1" fill="#cfcfcf" opacity="0.6"/>
<circle cx="318.44" cy="69.16" r="1.1" fill="#cfcfcf" opacity="0.6"/>
<circle cx="319.49" cy="68.92" r="1.1" fill="#cfcfcf" opacity="0.6"/>
<circle cx="320.33" cy="61.98" r="1.1" fill="#cfcfcf" opacity="0.6"/>
<circle cx="321.51" cy="63.85" r="1.1" fill="#cfcfcf" opacity="0.6"/>
<circle cx="324.30" cy="58.25" r="1.1" fill="#cfcfcf" opacity="0.6"/>
<circle cx="326.11" cy="61.10" r="1.1" fill="#cfcfcf" opacity="0.6"/>
<circle cx="326.63" cy="59.73" r="1.1" fill="#cfcfcf" opacity="0.6"/>
<circle cx="332.12" cy="58.69" r="1.1" fill="#cfcfcf" opacity="0.6"/>
<circle cx="329.52" cy="60.03" r="1.1" fill="#cfcfcf" opacity="0.6"/>
<circle cx="325.57" cy="58.80" r="1.1" fill="#cfcfcf" opacity="0.6"/>
<circle cx="334.09" cy="59.83" r="1.1" fill="#cfcfcf" opacity="0.6"/>
<circle cx="333.43" cy="61.35" r="1.1" fill="#cfcfcf" opacity="0.6"/>
<circle cx="336.82" cy="62.17" r="1.1" fill="#cfcfcf" opacity="0.6"/>
<circle cx="339.68" cy="61.39" r="1.1" fill="#cfcfcf" opacity="0.6"/>
<circle cx="339.06" cy="70.91" r="1.1" fill="#cfcfcf" opacity="0.6"/>
<circle cx="339.02" cy="110.12" r="1.1" fill="#cfcfcf" opacity="0.6"/>
<circle cx="336.82" cy="73.17" r="1.1" fill="#cfcfcf" opacity="0.6"/>
<circle cx="339.39" cy="79.11" r="1.1" fill="#cfcfcf" opacity="0.6"/>
<circle cx="338.89" cy="84.01" r="1.1" fill="#cfcfcf" opacity="0.6"/>
<circle cx="339.06" cy="67.19" r="1.1" fill="#cfcfcf" opacity="0.6"/>
<circle cx="338.63" cy="97.88" r="1.1" fill="#cfcfcf" opacity="0.6"/>
<circle cx="339.34" cy="96.54" r="1.1" fill="#cfcfcf" opacity="0.6"/>
<circle cx="339.13" cy="102.16" r="1.1" fill="#cfcfcf" opacity="0.6"/>
<circle cx="337.99" cy="91.14" r="1.1" fill="#cfcfcf" opacity="0.6"/>
<circle cx="338.46" cy="97.49" r="1.1" fill="#cfcfcf" opacity="0.6"/>
<circle cx="339.30" cy="104.58" r="1.1" fill="#cfcfcf" opacity="0.6"/>
<circle cx="339.58" cy="102.59" r="1.1" fill="#cfcfcf" opacity="0.6"/>
<circle cx="336.34" cy="78.02" r="1.1" fill="#cfcfcf" opacity="0.6"/>
<circle cx="339.59" cy="96.86" r="1.1" fill="#cfcfcf" opacity="0.6"/>
<circle cx="339.70" cy="117.62" r="1.1" fill="#cfcfcf" opacity="0.6"/>
<circle cx="337.75" cy="67.11" r="1.1" fill="#cfcfcf" opacity="0.6"/>
<circle cx="339.57" cy="112.18" r="1.1" fill="#cfcfcf" opacity="0.6"/>
<circle cx="339.57" cy="108.15" r="1.1" fill="#cfcfcf" opacity="0.6"/>
<circle cx="338.62" cy="89.04" r="1.1" fill="#cfcfcf" opacity="0.6"/>
<circle cx="338.29" cy="105.91" r="1.1" fill="#cfcfcf" opacity="0.6"/>
<circle cx="340.41" cy="120.04" r="1.1" fill="#cfcfcf" opacity="0.6"/>
<circle cx="337.78" cy="118.39" r="1.1" fill="#cfcfcf" opacity="0.6"/>
<circle cx="338.79" cy="125.32" r="1.1" fill="#cfcfcf" opacity="0.6"/>
<circle cx="340.74" cy="120.18" r="1.1" fill="#cfcfcf" opacity="0.6"/>
<circle cx="337.79" cy="124.12" r="1.1" fill="#cfcfcf" opacity="0.6"/>
<circle cx="334.30" cy="127.79" r="1.1" fill="#cfcfcf" opacity="0.6"/>
<circle cx="335.68" cy="125.14" r="1.1" fill="#cfcfcf" opacity="0.6"/>
<circle cx="335.82" cy="127.63" r="1.1" fill="#cfcfcf" opacity="0.6"/>
<circle cx="334.45" cy="131.69" r="1.1" fill="#cfcfcf" opacity="0.6"/>
<circle cx="330.68" cy="133.75" r="1.1" fill="#cfcfcf" opacity="0.6"/>
<circle cx="331.00" cy="132.42" r="1.1" fill="#cfcfcf" opacity="0.6"/>
<circle cx="325.74" cy="135.90" r="1.1" fill="#cfcfcf" opacity="0.6"/>
<circle cx="322.00" cy="137.14" r="1.1" fill="#cfcfcf" opacity="0.6"/>
<circle cx="324.87" cy="136.53" r="1.1" fill="#cfcfcf" opacity="0.6"/>
<circle cx="319.72" cy="141.31" r="1.1" fill="#cfcfcf" opacity="0.6"/>
<circle cx="322.44" cy="141.77" r="1.1" fill="#cfcfcf" opacity="0.6"/>
<circle cx="319.97" cy="140.73" r="1.1" fill="#cfcfcf" opacity="0.6"/>
<circle cx="329.06" cy="133.36" r="1.1" fill="#cfcfcf" opacity="0.6"/>
<circle cx="322.12" cy="141.52" r="1.1" fill="#cfcfcf" opacity="0.6"/>
<circle cx="319.91" cy="142.66" r="1.1" fill="#cfcfcf" opacity="0.6"/>
<circle cx="317.47" cy="143.37" r="1.1" fill="#cfcfcf" opacity="0.6"/>
<circle cx="314.94" cy="141.27" r="1.1" fill="#cfcfcf" opacity="0.6"/>
<circle cx="319.87" cy="142.94" r="1.1" fill="#cfcfcf" opacity="0.6"/>
<circle cx="314.05" cy="143.97" r="1.1" fill="#cfcfcf" opacity="0.6"/>
<circle cx="316.94" cy="141.80" r="1.1" fill="#cfcfcf" opacity="0.6"/>
<circle cx="320.92" cy="140.52" r="1.1" fill="#cfcfcf" opacity="0.6"/>
<circle cx="300.45" cy="142.08" r="1.1" fill="#cfcfcf" opacity="0.6"/>
<circle cx="306.94" cy="144.74" r="1.1" fill="#cfcfcf" opacity="0.6"/>
<circle cx="302.80" cy="143.62" r="1.1" fill="#cfcfcf" opacity="0.6"/>
<circle cx="304.52" cy="143.53" r="1.1" fill="#cfcfcf" opacity="0.6"/>
<circle cx="304.69" cy="142.18" r="1.1" fill="#cfcfcf" opacity="0.6"/>
<circle cx="309.43" cy="143.49" r="1.1" fill="#cfcfcf" opacity="0.6"/>
<circle cx="300.89" cy="142.51" r="1.1" fill="#cfcfcf" opacity="0.6"/>
<circle cx="295.70" cy="138.54" r="1.1" fill="#cfcfcf" opacity="0.6"/>
<circle cx="291.52" cy="137.33" r="1.1" fill="#cfcfcf" opacity="0.6"/>
<circle cx="296.35" cy="137.73" r="1.1" fill="#cfcfcf" opacity="0.6"/>
<circle cx="289.89" cy="134.83" r="1.1" fill="#cfcfcf" opacity="0.6"/>
<circle cx="293.73" cy="134.69" r="1.1" fill="#cfcfcf" opacity="0.6"/>
<circle cx="289.90" cy="135.43" r="1.1" fill="#cfcfcf" opacity="0.6"/>
<circle cx="295.08" cy="136.93" r="1.1" fill="#cfcfcf" opacity="0.6"/>
<circle cx="293.54" cy="137.80" r="1.1" fill="#cfcfcf" opacity="0.6"/>
<circle cx="284.59" cy="125.67" r="1.1" fill="#cfcfcf" opacity="0.6"/>
<circle cx="283.13" cy="127.89" r="1.1" fill="#cfcfcf" opacity="0.6"/>
<circle cx="286.09" cy="130.76" r="1.1" fill="#cfcfcf" opacity="0.6"/>
<circle cx="288.65" cy="129.80" r="1.1" fill="#cfcfcf" opacity="0.6"/>
<circle cx="285.18" cy="126.84" r="1.1" fill="#cfcfcf" opacity="0.6"/>
<circle cx="280.70" cy="122.16" r="1.1" fill="#cfcfcf" opacity="0.6"/>
<circle cx="281.78" cy="123.51" r="1.1" fill="#cfcfcf" opacity="0.6"/>
<circle cx="281.20" cy="119.44" r="1.1" fill="#cfcfcf" opacity="0.6"/>
<circle cx="281.74" cy="121.66" r="1.1" fill="#cfcfcf" opacity="0.6"/>
<circle cx="279.22" cy="115.84" r="1.1" fill="#cfcfcf" opacity="0.6"/>
<circle cx="291.39" cy="61.54" r="1.1" fill="#d2d2d2" opacity="0.6"/>
<circle cx="288.42" cy="63.52" r="1.1" fill="#d2d2d2" opacity="0.6"/>
<circle cx="290.84" cy="60.90" r="1.1" fill="#d2d2d2" opacity="0.6"/>
<circle cx="290.06" cy="62.89" r="1.1" fill="#d2d2d2" opacity="0.6"/>
<circle cx="283.57" cy="63.51" r="1.1" fill="#d2d2d2" opacity="0.6"/>
<circle cx="284.24" cy="66.18" r="1.1" fill="#d2d2d2" opacity="0.6"/>
<circle cx="287.57" cy="64.49" r="1.1" fill="#d2d2d2" opacity="0.6"/>
<circle cx="288.35" cy="62.29" r="1.1" fill="#d2d2d2" opacity="0.6"/>
<circle cx="283.54" cy="59.28" r="1.1" fill="#d2d2d2" opacity="0.6"/>
<circle cx="294.84" cy="62.76" r="1.1" fill="#d2d2d2" opacity="0.6"/>
<circle cx="288.38" cy="62.75" r="1.1" fill="#d2d2d2" opacity="0.6"/>
<circle cx="293.01" cy="60.15" r="1.1" fill="#d2d2d2" opacity="0.6"/>
<circle cx="282.76" cy="65.40" r="1.1" fill="#d2d2d2" opacity="0.6"/>
<circle cx="287.36" cy="63.76" r="1.1" fill="#d2d2d2" opacity="0.6"/>
<circle cx="335.72" cy="58.52" r="1.1" fill="#d2d2d2" opacity="0.6"/>
<circle cx="336.49" cy="46.61" r="1.1" fill="#d2d2d2" opacity="0.6"/>
<circle cx="327.24" cy="57.65" r="1.1" fill="#d2d2d2" opacity="0.6"/>
<circle cx="335.54" cy="47.72" r="1.1" fill="#d2d2d2" opacity="0.6"/>
<circle cx="322.92" cy="49.52" r="1.1" fill="#d2d2d2" opacity="0.6"/>
<circle cx="321.95" cy="50.99" r="1.1" fill="#d2d2d2" opacity="0.6"/>
<circle cx="335.26" cy="53.30" r="1.1" fill="#d2d2d2" opacity="0.6"/>
<circle cx="328.60" cy="47.23" r="1.1" fill="#d2d2d2" opacity="0.6"/>
<circle cx="327.52" cy="59.96" r="1.1" fill="#d2d2d2" opacity="0.6"/>
<circle cx="333.21" cy="52.29" r="1.1" fill="#d2d2d2" opacity="0.6"/>
<circle cx="329.09" cy="57.18" r="1.1" fill="#d2d2d2" opacity="0.6"/>
<circle cx="334.42" cy="48.10" r="1.1" fill="#d2d2d2" opacity="0.6"/>
<circle cx="332.92" cy="51.14" r="1.1" fill="#d2d2d2" opacity="0.6"/>
<circle cx="329.89" cy="49.33" r="1.1" fill="#d2d2d2" opacity="0.6"/>
<circle cx="327.04" cy="50.76" r="1.1" fill="#d2d2d2" opacity="0.6"/>
<circle cx="327.24" cy="46.25" r="1.1" fill="#d2d2d2" opacity="0.6"/>
<circle cx="323.82" cy="53.99" r="1.1" fill="#d2d2d2" opacity="0.6"/>
<circle cx="321.10" cy="48.50" r="1.1" fill="#d2d2d2" opacity="0.6"/>
<circle cx="333.65" cy="49.84" r="1.1" fill="#d2d2d2" opacity="0.6"/>
<circle cx="326.16" cy="49.39" r="1.1" fill="#d2d2d2" opacity="0.6"/>
<circle cx="282.00" cy="32.00" r="1.1" fill="#d0d0d0" opacity="0.8"/>
<circle cx="284.00" cy="40.00" r="1.1" fill="#d0d0d0" opacity="0.8"/>
<circle cx="300.00" cy="46.00" r="1.1" fill="#d0d0d0" opacity="0.8"/>
<circle cx="290.00" cy="52.00" r="1.1" fill="#d0d0d0" opacity="0.8"/>
<circle cx="318.00" cy="50.00" r="1.1" fill="#d0d0d0" opacity="0.8"/>
<circle cx="326.00" cy="46.00" r="1.1" fill="#d0d0d0" opacity="0.8"/>
<circle cx="331.00" cy="52.00" r="1.1" fill="#d0d0d0" opacity="0.8"/>
<circle cx="296.00" cy="58.00" r="1.1" fill="#d0d0d0" opacity="0.8"/>
<circle cx="286.00" cy="58.00" r="1.1" fill="#d0d0d0" opacity="0.8"/>
<circle cx="312.00" cy="56.00" r="1.1" fill="#d0d0d0" opacity="0.8"/>
<circle cx="322.00" cy="56.00" r="1.1" fill="#d0d0d0" opacity="0.8"/>
<circle cx="334.00" cy="58.00" r="1.1" fill="#d0d0d0" opacity="0.8"/>
<circle cx="283.00" cy="62.00" r="1.1" fill="#d0d0d0" opacity="0.8"/>
<circle cx="337.00" cy="60.00" r="1.1" fill="#d0d0d0" opacity="0.8"/>
<circle cx="329.00" cy="42.00" r="1.1" fill="#d0d0d0" opacity="0.8"/>
<circle cx="305.00" cy="60.00" r="1.1" fill="#d0d0d0" opacity="0.8"/>
<circle cx="333.70" cy="41.90" r="1.1" fill="#d0d0d0" opacity="0.8"/>
<circle cx="269.00" cy="123.01" r="1.1" fill="#d0d0d0" opacity="0.7"/>
<circle cx="272.65" cy="121.33" r="1.1" fill="#d0d0d0" opacity="0.7"/>
<circle cx="268.48" cy="119.63" r="1.1" fill="#d0d0d0" opacity="0.7"/>
<circle cx="276.28" cy="120.02" r="1.1" fill="#d0d0d0" opacity="0.7"/>
<circle cx="347.29" cy="119.70" r="1.1" fill="#d0d0d0" opacity="0.7"/>
<circle cx="346.94" cy="123.84" r="1.1" fill="#d0d0d0" opacity="0.7"/>
<circle cx="350.22" cy="121.66" r="1.1" fill="#d0d0d0" opacity="0.7"/>
<circle cx="268.78" cy="119.66" r="1.1" fill="#d0d0d0" opacity="0.7"/>
<circle cx="346.31" cy="117.75" r="1.1" fill="#d0d0d0" opacity="0.7"/>
<circle cx="278.29" cy="119.90" r="1.1" fill="#d0d0d0" opacity="0.7"/>
<circle cx="277.79" cy="119.78" r="1.1" fill="#d0d0d0" opacity="0.7"/>
<circle cx="341.62" cy="121.69" r="1.1" fill="#d0d0d0" opacity="0.7"/>
<circle cx="348.89" cy="123.48" r="1.1" fill="#d0d0d0" opacity="0.7"/>
<circle cx="271.63" cy="122.39" r="1.1" fill="#d0d0d0" opacity="0.7"/>
<circle cx="272.60" cy="9.30" r="1.45" fill="#4c5898" opacity="0.6"/>
<circle cx="275.60" cy="12.00" r="1.45" fill="#4c5898" opacity="0.6"/>
<circle cx="272.50" cy="67.50" r="1.45" fill="#4c5898" opacity="0.6"/>
<circle cx="271.00" cy="71.00" r="1.45" fill="#4c5898" opacity="0.6"/>
<circle cx="276.00" cy="72.50" r="1.45" fill="#4c5898" opacity="0.6"/>
<circle cx="278.00" cy="73.00" r="1.45" fill="#4c5898" opacity="0.6"/>
<circle cx="275.00" cy="75.00" r="1.45" fill="#4c5898" opacity="0.6"/>
<circle cx="269.50" cy="77.50" r="1.45" fill="#4c5898" opacity="0.6"/>
<circle cx="267.50" cy="81.00" r="1.45" fill="#4c5898" opacity="0.6"/>
<circle cx="264.50" cy="84.50" r="1.45" fill="#4c5898" opacity="0.6"/>
<circle cx="261.00" cy="87.50" r="1.45" fill="#4c5898" opacity="0.6"/>
<circle cx="265.00" cy="88.50" r="1.45" fill="#4c5898" opacity="0.6"/>
<circle cx="276.00" cy="85.00" r="1.45" fill="#4c5898" opacity="0.6"/>
<circle cx="278.00" cy="88.00" r="1.45" fill="#4c5898" opacity="0.6"/>
<circle cx="270.00" cy="89.00" r="1.45" fill="#4c5898" opacity="0.6"/>
<circle cx="276.00" cy="91.50" r="1.45" fill="#4c5898" opacity="0.6"/>
<circle cx="252.20" cy="88.60" r="1.45" fill="#4c5898" opacity="0.6"/>
<circle cx="261.60" cy="87.90" r="1.45" fill="#4c5898" opacity="0.6"/>
<circle cx="264.90" cy="89.00" r="1.45" fill="#4c5898" opacity="0.6"/>
<circle cx="270.40" cy="89.00" r="1.45" fill="#4c5898" opacity="0.6"/>
<circle cx="264.90" cy="84.00" r="1.45" fill="#4c5898" opacity="0.6"/>
<circle cx="276.00" cy="85.10" r="1.45" fill="#4c5898" opacity="0.6"/>
<circle cx="278.70" cy="87.30" r="1.45" fill="#4c5898" opacity="0.6"/>
<circle cx="276.00" cy="92.30" r="1.45" fill="#4c5898" opacity="0.6"/>
<circle cx="260.50" cy="95.00" r="1.45" fill="#4c5898" opacity="0.6"/>
<circle cx="263.80" cy="95.60" r="1.45" fill="#4c5898" opacity="0.6"/>
<circle cx="261.00" cy="99.50" r="1.45" fill="#4c5898" opacity="0.6"/>
<circle cx="269.30" cy="98.40" r="1.45" fill="#4c5898" opacity="0.6"/>
<circle cx="273.80" cy="96.20" r="1.45" fill="#4c5898" opacity="0.6"/>
<circle cx="277.60" cy="95.00" r="1.45" fill="#4c5898" opacity="0.6"/>
<circle cx="275.40" cy="99.50" r="1.45" fill="#4c5898" opacity="0.6"/>
<circle cx="278.20" cy="98.90" r="1.45" fill="#4c5898" opacity="0.6"/>
<circle cx="273.20" cy="101.70" r="1.45" fill="#4c5898" opacity="0.6"/>
<circle cx="276.50" cy="101.70" r="1.45" fill="#4c5898" opacity="0.6"/>
<circle cx="272.10" cy="104.40" r="1.45" fill="#4c5898" opacity="0.6"/>
<circle cx="274.90" cy="104.40" r="1.45" fill="#4c5898" opacity="0.6"/>
<circle cx="278.20" cy="103.30" r="1.45" fill="#4c5898" opacity="0.6"/>
<circle cx="272.60" cy="107.20" r="1.45" fill="#4c5898" opacity="0.6"/>
<circle cx="263.80" cy="108.30" r="1.45" fill="#4c5898" opacity="0.6"/>
<circle cx="276.50" cy="110.00" r="1.45" fill="#4c5898" opacity="0.6"/>
<circle cx="270.40" cy="110.00" r="1.45" fill="#4c5898" opacity="0.6"/>
<circle cx="270.40" cy="113.30" r="1.45" fill="#4c5898" opacity="0.6"/>
<circle cx="273.80" cy="114.40" r="1.45" fill="#4c5898" opacity="0.6"/>
<circle cx="278.20" cy="116.00" r="1.45" fill="#4c5898" opacity="0.6"/>
<circle cx="277.00" cy="106.00" r="1.45" fill="#4c5898" opacity="0.6"/>
<circle cx="275.00" cy="97.00" r="1.45" fill="#4c5898" opacity="0.6"/>
<circle cx="279.00" cy="92.00" r="1.45" fill="#4c5898" opacity="0.6"/>
<circle cx="274.00" cy="80.00" r="1.45" fill="#4c5898" opacity="0.6"/>
<circle cx="279.00" cy="79.00" r="1.45" fill="#4c5898" opacity="0.6"/>
<circle cx="277.50" cy="112.50" r="1.45" fill="#4c5898" opacity="0.6"/>
<circle cx="256.00" cy="84.00" r="1.45" fill="#4c5898" opacity="0.6"/>
<circle cx="258.00" cy="98.00" r="1.45" fill="#4c5898" opacity="0.6"/>
<circle cx="268.00" cy="93.00" r="1.45" fill="#4c5898" opacity="0.6"/>
<circle cx="271.00" cy="95.00" r="1.45" fill="#4c5898" opacity="0.6"/>
<circle cx="266.00" cy="104.00" r="1.45" fill="#4c5898" opacity="0.6"/>
<circle cx="279.00" cy="108.00" r="1.45" fill="#4c5898" opacity="0.6"/>
<circle cx="275.50" cy="88.00" r="1.45" fill="#4c5898" opacity="0.6"/>
<circle cx="268.00" cy="113.00" r="1.45" fill="#4c5898" opacity="0.6"/>
<circle cx="272.00" cy="111.00" r="1.45" fill="#4c5898" opacity="0.6"/>
<circle cx="339.6" cy="42" r="1.15" fill="#f8c6ce" stroke="#ee8898" stroke-width="0.45" opacity="0.9"/>
<circle cx="340" cy="37" r="1.15" fill="#f8c6ce" stroke="#ee8898" stroke-width="0.45" opacity="0.9"/>
<circle cx="352" cy="34" r="1.15" fill="#f8c6ce" stroke="#ee8898" stroke-width="0.45" opacity="0.9"/>
<circle cx="343.5" cy="68.3" r="1.15" fill="#f8c6ce" stroke="#ee8898" stroke-width="0.45" opacity="0.9"/>
<circle cx="343" cy="78.75" r="1.15" fill="#f8c6ce" stroke="#ee8898" stroke-width="0.45" opacity="0.9"/>
<circle cx="344" cy="79.5" r="1.15" fill="#f8c6ce" stroke="#ee8898" stroke-width="0.45" opacity="0.9"/>
<circle cx="342.5" cy="88.6" r="1.15" fill="#f8c6ce" stroke="#ee8898" stroke-width="0.45" opacity="0.9"/>
<circle cx="352" cy="63" r="1.15" fill="#f8c6ce" stroke="#ee8898" stroke-width="0.45" opacity="0.9"/>
<circle cx="343" cy="90" r="1.15" fill="#f8c6ce" stroke="#ee8898" stroke-width="0.45" opacity="0.9"/>
<circle cx="339.9" cy="101.5" r="1.15" fill="#f8c6ce" stroke="#ee8898" stroke-width="0.45" opacity="0.9"/>
<circle cx="344.6" cy="101.5" r="1.15" fill="#f8c6ce" stroke="#ee8898" stroke-width="0.45" opacity="0.9"/>
<circle cx="342" cy="104" r="1.15" fill="#f8c6ce" stroke="#ee8898" stroke-width="0.45" opacity="0.9"/>
<circle cx="340.4" cy="111.4" r="1.15" fill="#f8c6ce" stroke="#ee8898" stroke-width="0.45" opacity="0.9"/>
<circle cx="344" cy="111.4" r="1.15" fill="#f8c6ce" stroke="#ee8898" stroke-width="0.45" opacity="0.9"/>
<circle cx="345.6" cy="113" r="1.15" fill="#f8c6ce" stroke="#ee8898" stroke-width="0.45" opacity="0.9"/>
<circle cx="357.6" cy="108.75" r="1.15" fill="#f8c6ce" stroke="#ee8898" stroke-width="0.45" opacity="0.9"/>
<circle cx="348" cy="97" r="1.15" fill="#f8c6ce" stroke="#ee8898" stroke-width="0.45" opacity="0.9"/>
<circle cx="241.5" cy="44.5" r="1.2" fill="#b6ece6" stroke="#6cd0c4" stroke-width="0.45"/>
<circle cx="234.7" cy="58.7" r="1.2" fill="#b6ece6" stroke="#6cd0c4" stroke-width="0.45"/>
<circle cx="251.2" cy="67.7" r="1.2" fill="#b6ece6" stroke="#6cd0c4" stroke-width="0.45"/>
<circle cx="250.2" cy="79.2" r="1.2" fill="#b6ece6" stroke="#6cd0c4" stroke-width="0.45"/>
<circle cx="234.3" cy="103.7" r="1.2" fill="#b6ece6" stroke="#6cd0c4" stroke-width="0.45"/>
<path d="M228.5 116.0H378.9" stroke="#1a1a1a" stroke-width="0.7" stroke-dasharray="2.1 1.5 0.5 1.65" stroke-dashoffset="4.55"/>
<path d="M278.7 2.6V147.0M340.0 2.6V147.0" stroke="#1a1a1a" stroke-width="0.7" stroke-dasharray="2.1 1.5 0.5 1.65" stroke-dashoffset="1.1"/>
<rect x="244" y="40.3" width="24.399999999999977" height="4.900000000000006" rx="0.9" fill="#fff" stroke="#8c8c8c" stroke-width="0.45"/>
<text x="245.20" y="44.20" textLength="22.00" lengthAdjust="spacingAndGlyphs" font-family="Liberation Sans, sans-serif" font-size="4.4" fill="#111" stroke="#111" stroke-width="0.1">SERPINB2</text>
<rect x="231.3" y="52.3" width="15.899999999999977" height="4.900000000000006" rx="0.9" fill="#fff" stroke="#8c8c8c" stroke-width="0.45"/>
<text x="232.50" y="56.20" textLength="13.50" lengthAdjust="spacingAndGlyphs" font-family="Liberation Sans, sans-serif" font-size="4.4" fill="#111" stroke="#111" stroke-width="0.1">PTGS2</text>
<rect x="246.7" y="61.7" width="19.5" height="4.8999999999999915" rx="0.9" fill="#fff" stroke="#8c8c8c" stroke-width="0.45"/>
<text x="247.90" y="65.60" textLength="17.10" lengthAdjust="spacingAndGlyphs" font-family="Liberation Sans, sans-serif" font-size="4.4" fill="#111" stroke="#111" stroke-width="0.1">HSPA1A</text>
<rect x="247.2" y="73.2" width="13.0" height="5.0" rx="0.9" fill="#fff" stroke="#8c8c8c" stroke-width="0.45"/>
<text x="248.40" y="77.20" textLength="10.60" lengthAdjust="spacingAndGlyphs" font-family="Liberation Sans, sans-serif" font-size="4.4" fill="#111" stroke="#111" stroke-width="0.1">CYBB</text>
<rect x="237.3" y="101" width="27.399999999999977" height="4.799999999999997" rx="0.9" fill="#fff" stroke="#8c8c8c" stroke-width="0.45"/>
<text x="238.50" y="104.80" textLength="25.00" lengthAdjust="spacingAndGlyphs" font-family="Liberation Sans, sans-serif" font-size="4.4" fill="#111" stroke="#111" stroke-width="0.1">HLA-DRB4</text>
<rect x="343" y="28.5" width="17.5" height="4.5" rx="0.9" fill="#fff" stroke="#8c8c8c" stroke-width="0.45"/>
<text x="344.20" y="32.00" textLength="15.10" lengthAdjust="spacingAndGlyphs" font-family="Liberation Sans, sans-serif" font-size="4.4" fill="#111" stroke="#111" stroke-width="0.1">ZNF295</text>
<rect x="329" y="60.6" width="21" height="4.499999999999993" rx="0.9" fill="#fff" stroke="#8c8c8c" stroke-width="0.45"/>
<text x="330.20" y="64.10" textLength="18.60" lengthAdjust="spacingAndGlyphs" font-family="Liberation Sans, sans-serif" font-size="4.4" fill="#111" stroke="#111" stroke-width="0.1">CDKN2D</text>
<rect x="335.4" y="95.7" width="12.5" height="3.8999999999999915" rx="0.9" fill="#fff" stroke="#8c8c8c" stroke-width="0.45"/>
<text x="336.60" y="98.60" textLength="10.10" lengthAdjust="spacingAndGlyphs" font-family="Liberation Sans, sans-serif" font-size="4.4" fill="#111" stroke="#111" stroke-width="0.1">E2F2</text>
<rect x="329.7" y="104.6" width="25.30000000000001" height="4.6000000000000085" rx="0.9" fill="#fff" stroke="#8c8c8c" stroke-width="0.45"/>
<text x="330.90" y="108.20" textLength="22.90" lengthAdjust="spacingAndGlyphs" font-family="Liberation Sans, sans-serif" font-size="4.4" fill="#111" stroke="#111" stroke-width="0.1">HLA-DRB6</text>
<rect x="337.4" y="115.4" width="10.0" height="4.199999999999989" rx="0.9" fill="#fff" stroke="#8c8c8c" stroke-width="0.45"/>
<text x="338.60" y="118.60" textLength="7.60" lengthAdjust="spacingAndGlyphs" font-family="Liberation Sans, sans-serif" font-size="4.4" fill="#111" stroke="#111" stroke-width="0.1">ALPL</text>
</g>
<rect x="228.5" y="2.6" width="150.40" height="144.40" fill="none" stroke="#a6a6a6" stroke-width="0.6"/>
<path d="M233.20 147.0v1.2M271.40 147.0v1.2M309.60 147.0v1.2M347.80 147.0v1.2M228.5 140.75h-1.2M228.5 102.51h-1.2M228.5 64.27h-1.2M228.5 26.03h-1.2" stroke="#555" stroke-width="0.35"/>
<text x="233.20" y="151" text-anchor="middle" font-family="Liberation Sans, sans-serif" font-size="3.4" fill="#555">-2</text>
<text x="271.40" y="151" text-anchor="middle" font-family="Liberation Sans, sans-serif" font-size="3.4" fill="#555">-1</text>
<text x="309.60" y="151" text-anchor="middle" font-family="Liberation Sans, sans-serif" font-size="3.4" fill="#555">0</text>
<text x="347.80" y="151" text-anchor="middle" font-family="Liberation Sans, sans-serif" font-size="3.4" fill="#555">1</text>
<text x="226.6" y="141.95" text-anchor="end" font-family="Liberation Sans, sans-serif" font-size="3.4" fill="#555">0</text>
<text x="226.6" y="103.71" text-anchor="end" font-family="Liberation Sans, sans-serif" font-size="3.4" fill="#555">2</text>
<text x="226.6" y="65.47" text-anchor="end" font-family="Liberation Sans, sans-serif" font-size="3.4" fill="#555">4</text>
<text x="226.6" y="27.23" text-anchor="end" font-family="Liberation Sans, sans-serif" font-size="3.4" fill="#555">6</text>
<text x="293" y="158.3" textLength="35" lengthAdjust="spacingAndGlyphs" font-family="Liberation Sans, sans-serif" font-size="4.2" fill="#222">log2(fold change)</text>
<text transform="translate(223.2,73) rotate(-90)" text-anchor="middle" font-family="Liberation Sans, sans-serif" font-size="4" fill="#222">-log10(p value)</text>
<text x="383" y="3" font-family="Liberation Sans, sans-serif" font-size="4" fill="#222">State</text>
<circle cx="386" cy="8.5" r="1.35" fill="#767a90"/>
<circle cx="386" cy="14.6" r="1.35" fill="#d6d6d6"/>
<circle cx="386" cy="20.7" r="1.35" fill="#eba4b2"/>
<text x="391.5" y="9.8" font-family="Liberation Sans, sans-serif" font-size="3.6" fill="#222">Down</text>
<text x="391.5" y="15.9" font-family="Liberation Sans, sans-serif" font-size="3.6" fill="#222">None</text>
<text x="391.5" y="22.0" font-family="Liberation Sans, sans-serif" font-size="3.6" fill="#222">Up</text>
<circle cx="267.2" cy="254.4" r="44.6" fill="#19fbd3" fill-opacity="0.5"/>
<circle cx="276.3" cy="199.6" r="23.3" fill="#2d61f1" fill-opacity="0.5"/>
<circle cx="327.9" cy="207.1" r="28.4" fill="#ff7131" fill-opacity="0.5"/>
<circle cx="351.3" cy="260.1" r="37.9" fill="#ff0b33" fill-opacity="0.5"/>
<text x="238" y="188.91" textLength="54.5" lengthAdjust="spacingAndGlyphs" font-family="Liberation Serif, serif" font-size="6.1" fill="#141414" stroke="#141414" stroke-width="0.1">down-regulated genes</text>
<text x="275.8" y="199.41" text-anchor="middle" font-family="Liberation Serif, serif" font-size="6.1" fill="#141414" stroke="#141414" stroke-width="0.1">771</text>
<text x="213.75" y="213.16" textLength="51.75" lengthAdjust="spacingAndGlyphs" font-family="Liberation Serif, serif" font-size="6.1" fill="#141414" stroke="#141414" stroke-width="0.1">hypermethylation-low</text>
<text x="220" y="220.66" textLength="40" lengthAdjust="spacingAndGlyphs" font-family="Liberation Serif, serif" font-size="6.1" fill="#141414" stroke="#141414" stroke-width="0.1">expression genes</text>
<text x="272.5" y="218.16" text-anchor="middle" font-family="Liberation Serif, serif" font-size="6.1" fill="#141414" stroke="#141414" stroke-width="0.1">143</text>
<text x="306" y="196.41" textLength="44" lengthAdjust="spacingAndGlyphs" font-family="Liberation Serif, serif" font-size="6.1" fill="#141414" stroke="#141414" stroke-width="0.1">up-regulated genes</text>
<text x="327" y="208.41" text-anchor="middle" font-family="Liberation Serif, serif" font-size="6.1" fill="#141414" stroke="#141414" stroke-width="0.1">987</text>
<text x="341" y="224.66" textLength="49" lengthAdjust="spacingAndGlyphs" font-family="Liberation Serif, serif" font-size="6.1" fill="#141414" stroke="#141414" stroke-width="0.1">hypermethylation-high</text>
<text x="347" y="231.91" textLength="39" lengthAdjust="spacingAndGlyphs" font-family="Liberation Serif, serif" font-size="6.1" fill="#141414" stroke="#141414" stroke-width="0.1">expression genes</text>
<text x="337.5" y="230.66" text-anchor="middle" font-family="Liberation Serif, serif" font-size="6.1" fill="#141414" stroke="#141414" stroke-width="0.1">91</text>
<text x="268.75" y="254.66" text-anchor="middle" font-family="Liberation Serif, serif" font-size="6.1" fill="#141414" stroke="#141414" stroke-width="0.1">3336</text>
<text x="242" y="267.16" textLength="55" lengthAdjust="spacingAndGlyphs" font-family="Liberation Serif, serif" font-size="6.1" fill="#141414" stroke="#141414" stroke-width="0.1">hypermethylated genes</text>
<text x="352.5" y="260.16" text-anchor="middle" font-family="Liberation Serif, serif" font-size="6.1" fill="#141414" stroke="#141414" stroke-width="0.1">1810</text>
<text x="328.75" y="267.66" textLength="50.0" lengthAdjust="spacingAndGlyphs" font-family="Liberation Serif, serif" font-size="6.1" fill="#141414" stroke="#141414" stroke-width="0.1">hypomethylated genes</text>
</svg></body></html>
